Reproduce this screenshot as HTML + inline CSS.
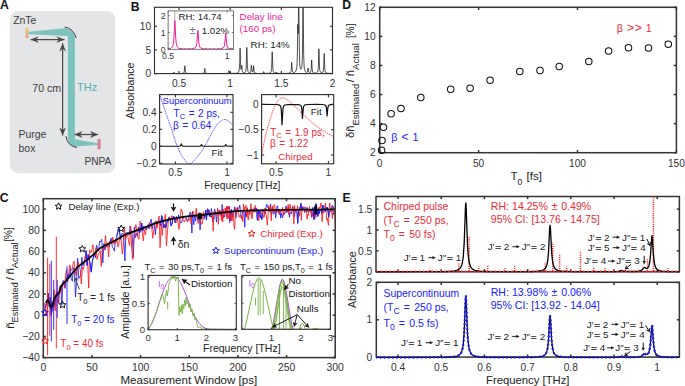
<!DOCTYPE html>
<html><head><meta charset="utf-8"><style>
html,body{margin:0;padding:0;background:#fff;}
body{width:685px;height:386px;overflow:hidden;}
svg{display:block;font-family:"Liberation Sans", sans-serif;}
</style></head><body>
<svg width="685" height="386" viewBox="0 0 685 386">
<rect width="685" height="386" fill="#fff"/>
<text x="0.00" y="9.00" font-size="12.2" fill="#111" font-weight="bold" >A</text>
<rect x="10" y="11" width="105.2" height="162.3" rx="8.5" fill="#e4e5e7"/>
<text x="13.20" y="23.60" font-size="10.4" fill="#3c3c3c" >ZnTe</text>
<defs><linearGradient id="zg" x1="0" y1="0" x2="0" y2="1"><stop offset="0" stop-color="#ecd070"/><stop offset="1" stop-color="#e7a08c"/></linearGradient></defs>
<rect x="25.4" y="27.8" width="3.2" height="10.4" fill="url(#zg)"/>
<path d="M28.4,31.7 L65.3,28.3 Q73.6,30.2 74.9,37.2 L74.9,139.3 L97.5,143.3 L97.5,145.0 L75.5,146.6 Q68.6,145.6 67.9,139.0 L67.9,36.1 L28.4,34.3 Z" fill="#7cc3bd"/>
<path d="M64.6,27.0 Q73.6,28.6 76.2,38.0" fill="none" stroke="#3a3a3a" stroke-width="1"/>
<path d="M66.0,136.2 Q67.0,145.6 77.0,147.6" fill="none" stroke="#3a3a3a" stroke-width="1"/>
<line x1="30.60" y1="39.60" x2="64.50" y2="39.60" stroke="#474747" stroke-width="1.25" />
<path d="M30.60,39.60 L38.80,36.20 L36.20,39.60 L38.80,43.00 Z" fill="#474747"/>
<path d="M64.50,39.60 L56.30,43.00 L58.90,39.60 L56.30,36.20 Z" fill="#474747"/>
<line x1="62.60" y1="43.20" x2="62.60" y2="135.60" stroke="#474747" stroke-width="1.25" />
<path d="M62.60,43.20 L66.00,51.40 L62.60,48.80 L59.20,51.40 Z" fill="#474747"/>
<path d="M62.60,135.60 L59.20,127.40 L62.60,130.00 L66.00,127.40 Z" fill="#474747"/>
<line x1="74.40" y1="134.50" x2="98.20" y2="134.50" stroke="#474747" stroke-width="1.25" />
<path d="M74.40,134.50 L82.60,131.10 L80.00,134.50 L82.60,137.90 Z" fill="#474747"/>
<path d="M98.20,134.50 L90.00,137.90 L92.60,134.50 L90.00,131.10 Z" fill="#474747"/>
<rect x="97.4" y="139.0" width="3.3" height="10.3" fill="#d6848f"/>
<text x="32.30" y="92.30" font-size="10.6" fill="#3c3c3c" >70 cm</text>
<text x="77.00" y="90.70" font-size="11" fill="#4fb3a9" >THz</text>
<text x="18.60" y="138.40" font-size="10.4" fill="#3c3c3c" >Purge</text>
<text x="18.60" y="151.90" font-size="10.4" fill="#3c3c3c" >box</text>
<text x="84.40" y="165.40" font-size="10.2" fill="#3c3c3c" >PNPA</text>
<text x="130.80" y="10.90" font-size="12.2" fill="#111" font-weight="bold" >B</text>
<clipPath id="cB"><rect x="154.5" y="7.3" width="178.0" height="66.3"/></clipPath>
<g clip-path="url(#cB)">
<path d="M153.4,73.6 172.2,73.5 173.3,73.2 173.9,72.2 174.4,73.2 175.2,73.5 180.3,73.5 182.9,73.4 183.8,72.9 184.2,71.8 184.8,65.8 185.5,72.2 186.1,73.0 187.1,73.4 198.6,73.6 203.2,73.4 203.9,73.0 204.2,72.3 204.8,68.4 205.4,72.4 205.9,73.1 206.8,73.4 215.2,73.6 227.2,73.4 227.9,73.2 228.3,72.9 228.9,70.6 229.5,72.5 229.8,72.5 230.2,71.9 230.7,73.0 231.2,73.3 234.4,73.4 237.3,73.1 238.2,72.7 238.7,72.0 239.3,69.1 239.7,63.2 240.1,48.2 240.5,63.4 240.9,68.8 241.1,69.3 241.2,69.2 241.8,65.4 242.1,70.0 242.5,71.7 243.2,72.7 243.8,72.9 244.4,72.8 245.1,72.4 245.6,71.7 246.1,68.8 246.8,47.4 247.5,68.2 248.0,71.4 248.4,72.2 248.9,72.7 249.5,72.8 250.0,72.7 250.4,72.4 250.7,71.9 251.0,69.9 251.4,65.2 251.9,70.1 252.2,71.7 252.6,72.0 253.0,71.3 253.6,65.8 254.2,71.7 254.6,72.7 255.2,73.1 257.7,73.5 262.4,73.4 263.1,73.0 263.6,71.6 264.2,73.0 264.9,73.4 268.7,73.3 269.8,73.1 270.5,72.8 271.2,71.4 271.6,68.7 272.2,51.8 272.9,69.0 273.3,71.5 273.9,72.7 274.6,73.1 275.4,73.1 275.7,72.9 276.2,72.0 276.9,73.1 278.1,73.4 287.0,73.4 289.1,73.2 290.1,72.9 290.8,72.1 291.2,70.5 291.7,62.4 292.2,69.5 292.6,71.5 292.9,72.2 293.4,72.5 294.0,72.5 294.8,72.2 295.7,71.4 296.3,69.8 296.8,67.1 297.1,63.4 297.4,52.3 297.8,24.4 298.1,33.7 298.3,31.5 298.7,-7.3 299.4,54.1 299.7,64.0 300.1,67.2 300.5,68.8 300.8,69.2 301.1,69.2 301.7,67.6 302.0,64.8 302.3,59.3 302.6,41.3 303.0,-7.1 303.7,55.6 304.1,66.0 304.4,68.9 304.9,70.6 305.3,71.5 305.9,72.1 306.6,72.4 307.2,72.2 307.6,71.3 308.1,68.0 308.6,71.2 308.9,72.2 309.3,72.5 309.7,72.7 310.2,72.5 310.6,72.2 310.9,71.1 311.2,69.1 311.7,60.0 312.2,69.2 312.8,72.1 313.5,72.9 314.9,73.1 316.5,72.9 317.4,72.2 317.9,70.6 318.3,67.6 318.9,48.8 319.5,66.9 319.8,70.4 320.3,72.0 321.1,72.7 322.2,72.7 322.9,72.2 323.3,70.9 323.8,66.1 324.2,53.6 324.7,67.4 325.0,70.4 325.4,72.0 326.0,72.8 327.0,73.2 332.5,73.5" fill="none" stroke="#1a1a1a" stroke-width="0.75" stroke-linejoin="round" />
</g>
<rect x="154.50" y="7.30" width="178.00" height="66.30" fill="none" stroke="#2b2b2b" stroke-width="1.1"/>
<line x1="179.00" y1="73.60" x2="179.00" y2="71.00" stroke="#2b2b2b" stroke-width="1.1" />
<line x1="179.00" y1="7.30" x2="179.00" y2="9.90" stroke="#2b2b2b" stroke-width="1.1" />
<line x1="230.16" y1="73.60" x2="230.16" y2="71.00" stroke="#2b2b2b" stroke-width="1.1" />
<line x1="230.16" y1="7.30" x2="230.16" y2="9.90" stroke="#2b2b2b" stroke-width="1.1" />
<line x1="281.33" y1="73.60" x2="281.33" y2="71.00" stroke="#2b2b2b" stroke-width="1.1" />
<line x1="281.33" y1="7.30" x2="281.33" y2="9.90" stroke="#2b2b2b" stroke-width="1.1" />
<line x1="332.50" y1="73.60" x2="332.50" y2="71.00" stroke="#2b2b2b" stroke-width="1.1" />
<line x1="332.50" y1="7.30" x2="332.50" y2="9.90" stroke="#2b2b2b" stroke-width="1.1" />
<line x1="154.50" y1="73.60" x2="157.10" y2="73.60" stroke="#2b2b2b" stroke-width="1.1" />
<line x1="332.50" y1="73.60" x2="329.90" y2="73.60" stroke="#2b2b2b" stroke-width="1.1" />
<line x1="154.50" y1="49.92" x2="157.10" y2="49.92" stroke="#2b2b2b" stroke-width="1.1" />
<line x1="332.50" y1="49.92" x2="329.90" y2="49.92" stroke="#2b2b2b" stroke-width="1.1" />
<line x1="154.50" y1="26.24" x2="157.10" y2="26.24" stroke="#2b2b2b" stroke-width="1.1" />
<line x1="332.50" y1="26.24" x2="329.90" y2="26.24" stroke="#2b2b2b" stroke-width="1.1" />
<text x="151.20" y="77.20" font-size="10.2" text-anchor="end" fill="#333" >0</text>
<text x="151.20" y="53.52" font-size="10.2" text-anchor="end" fill="#333" >5</text>
<text x="151.20" y="29.84" font-size="10.2" text-anchor="end" fill="#333" >10</text>
<text x="179.00" y="86.70" font-size="10.2" text-anchor="middle" fill="#333" >0.5</text>
<text x="230.16" y="86.70" font-size="10.2" text-anchor="middle" fill="#333" >1</text>
<text x="281.33" y="86.70" font-size="10.2" text-anchor="middle" fill="#333" >1.5</text>
<text x="332.50" y="86.70" font-size="10.2" text-anchor="middle" fill="#333" >2</text>
<rect x="168.1" y="10.9" width="65.40" height="38.40" fill="#fff"/>
<clipPath id="cBi"><rect x="168.1" y="10.9" width="65.4" height="38.4"/></clipPath>
<g clip-path="url(#cBi)">
<line x1="174.83" y1="10.90" x2="174.83" y2="22.42" stroke="#777" stroke-width="0.6" />
<path d="M168.1,48.6 169.2,48.4 170.9,48.4 172.4,46.8 173.2,44.6 173.9,38.7 174.8,20.7 175.0,22.6 175.7,37.7 176.2,43.1 176.6,45.2 177.1,46.5 177.9,47.6 179.1,48.6 181.3,48.4 183.2,49.1 184.5,48.7 185.5,48.6 187.4,49.1 188.6,48.7 189.6,48.6 191.5,49.0 193.0,48.4 195.0,48.0 195.6,47.7 196.3,46.1 196.8,43.5 197.9,30.3 199.0,44.1 199.7,47.1 200.4,47.8 203.8,49.0 205.9,48.6 207.9,49.2 210.1,48.7 212.1,49.2 214.0,48.7 216.2,49.2 218.2,48.6 220.3,49.0 223.2,47.8 224.0,46.8 224.6,45.0 225.7,33.0 226.7,43.7 227.1,45.9 227.6,47.2 228.6,48.4 230.8,48.5 232.6,49.1 234.2,48.7" fill="none" stroke="#ec1e96" stroke-width="1.0" stroke-linejoin="round" />
</g>
<rect x="168.1" y="10.9" width="65.40" height="38.40" fill="none" stroke="#555" stroke-width="0.8"/>
<line x1="168.10" y1="49.30" x2="169.90" y2="49.30" stroke="#555" stroke-width="0.8" />
<line x1="233.50" y1="49.30" x2="231.70" y2="49.30" stroke="#555" stroke-width="0.8" />
<text x="165.60" y="52.50" font-size="8.6" text-anchor="end" fill="#333" >0</text>
<line x1="168.10" y1="32.50" x2="169.90" y2="32.50" stroke="#555" stroke-width="0.8" />
<line x1="233.50" y1="32.50" x2="231.70" y2="32.50" stroke="#555" stroke-width="0.8" />
<text x="165.60" y="35.70" font-size="8.6" text-anchor="end" fill="#333" >1</text>
<line x1="168.10" y1="15.70" x2="169.90" y2="15.70" stroke="#555" stroke-width="0.8" />
<line x1="233.50" y1="15.70" x2="231.70" y2="15.70" stroke="#555" stroke-width="0.8" />
<text x="165.60" y="18.90" font-size="8.6" text-anchor="end" fill="#333" >2</text>
<line x1="168.10" y1="49.30" x2="168.10" y2="47.50" stroke="#555" stroke-width="0.8" />
<line x1="168.10" y1="10.90" x2="168.10" y2="12.70" stroke="#555" stroke-width="0.8" />
<line x1="227.10" y1="49.30" x2="227.10" y2="47.50" stroke="#555" stroke-width="0.8" />
<line x1="227.10" y1="10.90" x2="227.10" y2="12.70" stroke="#555" stroke-width="0.8" />
<text x="168.10" y="58.80" font-size="8.6" text-anchor="middle" fill="#333" >0.5</text>
<text x="227.10" y="58.80" font-size="8.6" text-anchor="middle" fill="#333" >1</text>
<text x="178.50" y="19.80" font-size="9.6" fill="#222" >RH: 14.74</text>
<text x="189.60" y="33.80" font-size="11.5" fill="#777" >±</text>
<text x="201.80" y="33.60" font-size="9.6" fill="#222" >1.02%</text>
<text x="239.60" y="20.20" font-size="9.8" fill="#ec1e96" >Delay line</text>
<text x="239.60" y="31.60" font-size="9.8" fill="#ec1e96" >(160 ps)</text>
<text x="250.60" y="47.80" font-size="9.8" fill="#222" >RH: 14%</text>
<text x="0.00" y="0.00" font-size="10.6" text-anchor="middle" fill="#222" transform="translate(134.2,90.8) rotate(-90)">Absorbance</text>
<clipPath id="cBl"><rect x="159.6" y="94.6" width="73.4" height="69.4"/></clipPath>
<g clip-path="url(#cBl)">
<path d="M159.4,93.6 159.7,94.6 160.1,95.8 160.6,97.3 161.2,99.0 161.8,100.8 162.4,102.6 162.9,104.3 163.5,106.0 164.0,107.6 164.6,109.2 165.2,110.8 165.7,112.5 166.3,114.1 166.9,115.7 167.4,117.4 168.0,119.0 168.6,120.6 169.1,122.2 169.7,123.8 170.2,125.4 170.8,127.0 171.4,128.7 171.9,130.3 172.5,132.0 173.1,133.7 173.6,135.6 174.2,137.4 174.7,139.3 175.3,141.1 175.9,142.9 176.5,144.7 177.1,146.3 177.8,147.9 178.5,149.4 179.2,150.9 179.9,152.4 180.7,153.8 181.5,155.1 182.2,156.4 183.0,157.5 183.8,158.6 184.5,159.7 185.3,160.7 186.0,161.7 186.8,162.5 187.6,163.2 188.4,163.6 189.2,163.8 190.0,163.7 190.8,163.5 191.6,163.0 192.4,162.3 193.3,161.5 194.2,160.6 195.1,159.6 196.0,158.5 197.0,157.3 198.1,156.0 199.2,154.5 200.3,152.9 201.5,151.3 202.6,149.6 203.7,147.9 204.7,146.3 205.7,144.6 206.6,142.9 207.6,141.1 208.5,139.2 209.4,137.4 210.3,135.7 211.1,134.0 212.0,132.5 212.9,131.1 213.7,129.7 214.5,128.4 215.3,127.1 216.1,125.9 216.9,124.9 217.7,123.9 218.5,123.0 219.3,122.2 220.0,121.6 220.8,121.0 221.6,120.5 222.3,120.1 223.0,119.8 223.7,119.6 224.4,119.5 225.0,119.5 225.6,119.5 226.2,119.7 226.8,120.0 227.3,120.3 227.9,120.7 228.4,121.1 229.0,121.5 229.6,122.0 230.3,122.7 231.1,123.4 231.8,124.1 232.5,124.9 233.1,125.5 233.6,126.1 234.0,126.5" fill="none" stroke="#3b3bff" stroke-width="0.9" stroke-linejoin="round" stroke-dasharray="1.6 0.9"/>
<path d="M158.9,146.3 179.3,146.2 180.1,146.0 180.6,145.7 181.3,143.8 182.1,145.8 182.6,146.1 183.9,146.2 199.6,146.2 200.7,145.9 201.4,144.6 202.2,145.9 203.3,146.2 223.4,146.2 225.0,145.9 225.7,144.6 226.4,145.8 227.2,146.2 234.2,146.3" fill="none" stroke="#111" stroke-width="1.1" stroke-linejoin="round" />
</g>
<rect x="159.60" y="94.60" width="73.40" height="69.40" fill="none" stroke="#2b2b2b" stroke-width="1.1"/>
<line x1="175.40" y1="164.00" x2="175.40" y2="161.40" stroke="#2b2b2b" stroke-width="1.1" />
<line x1="175.40" y1="94.60" x2="175.40" y2="97.20" stroke="#2b2b2b" stroke-width="1.1" />
<line x1="227.00" y1="164.00" x2="227.00" y2="161.40" stroke="#2b2b2b" stroke-width="1.1" />
<line x1="227.00" y1="94.60" x2="227.00" y2="97.20" stroke="#2b2b2b" stroke-width="1.1" />
<line x1="159.60" y1="163.30" x2="162.20" y2="163.30" stroke="#2b2b2b" stroke-width="1.1" />
<line x1="233.00" y1="163.30" x2="230.40" y2="163.30" stroke="#2b2b2b" stroke-width="1.1" />
<line x1="159.60" y1="146.30" x2="162.20" y2="146.30" stroke="#2b2b2b" stroke-width="1.1" />
<line x1="233.00" y1="146.30" x2="230.40" y2="146.30" stroke="#2b2b2b" stroke-width="1.1" />
<line x1="159.60" y1="129.30" x2="162.20" y2="129.30" stroke="#2b2b2b" stroke-width="1.1" />
<line x1="233.00" y1="129.30" x2="230.40" y2="129.30" stroke="#2b2b2b" stroke-width="1.1" />
<line x1="159.60" y1="112.30" x2="162.20" y2="112.30" stroke="#2b2b2b" stroke-width="1.1" />
<line x1="233.00" y1="112.30" x2="230.40" y2="112.30" stroke="#2b2b2b" stroke-width="1.1" />
<text x="156.60" y="166.90" font-size="10.2" text-anchor="end" fill="#333" >−0.2</text>
<text x="156.60" y="149.90" font-size="10.2" text-anchor="end" fill="#333" >0</text>
<text x="156.60" y="132.90" font-size="10.2" text-anchor="end" fill="#333" >0.2</text>
<text x="156.60" y="115.90" font-size="10.2" text-anchor="end" fill="#333" >0.4</text>
<text x="175.40" y="176.40" font-size="10.2" text-anchor="middle" fill="#333" >0.5</text>
<text x="227.00" y="176.40" font-size="10.2" text-anchor="middle" fill="#333" >1</text>
<text x="162.60" y="104.40" font-size="9.5" fill="#2020ff" >Supercontinuum</text>
<text x="173.60" y="116.70" font-size="10.0" fill="#2020ff" >T<tspan font-size="7.5" dy="2.5">C</tspan><tspan dy="-2.5" dx="0.8"> =</tspan><tspan dx="0.8"> 2 ps,</tspan></text>
<text x="173.00" y="128.80" font-size="10.0" fill="#2020ff" >β<tspan dx="0.8"> =</tspan><tspan dx="0.8"> 0.64</tspan></text>
<text x="211.50" y="155.70" font-size="9.8" fill="#222" >Fit</text>
<clipPath id="cBr"><rect x="261.6" y="94.6" width="72.09999999999997" height="69.20000000000002"/></clipPath>
<g clip-path="url(#cBr)">
<path d="M261.0,157.5 261.2,156.5 261.4,155.2 261.7,153.7 262.1,152.0 262.4,150.2 262.8,148.4 263.2,146.6 263.5,145.0 263.8,143.5 264.2,141.9 264.5,140.4 264.8,138.9 265.2,137.4 265.5,135.9 265.9,134.5 266.2,133.1 266.5,131.8 266.9,130.5 267.2,129.3 267.5,128.1 267.8,126.9 268.2,125.7 268.5,124.6 268.8,123.5 269.1,122.4 269.4,121.3 269.7,120.3 270.1,119.3 270.4,118.3 270.7,117.3 271.0,116.3 271.3,115.4 271.6,114.5 271.9,113.6 272.2,112.7 272.6,111.8 272.9,110.9 273.2,110.1 273.5,109.3 273.8,108.5 274.1,107.7 274.4,107.0 274.7,106.3 275.0,105.6 275.3,105.0 275.7,104.4 276.0,103.8 276.3,103.2 276.6,102.7 277.0,102.1 277.3,101.6 277.6,101.2 278.0,100.7 278.3,100.3 278.7,99.9 279.0,99.6 279.4,99.3 279.7,99.0 280.1,98.7 280.4,98.5 280.8,98.3 281.2,98.1 281.5,98.0 281.9,97.9 282.3,97.9 282.7,97.9 283.0,97.9 283.4,98.0 283.8,98.1 284.2,98.2 284.6,98.3 285.0,98.5 285.4,98.7 285.8,98.9 286.3,99.1 286.7,99.3 287.1,99.6 287.6,99.9 288.0,100.2 288.5,100.5 289.0,100.9 289.5,101.3 290.0,101.7 290.5,102.1 291.0,102.6 291.5,103.1 292.0,103.5 292.5,104.0 293.0,104.4 293.4,104.9 293.9,105.3 294.3,105.8 294.7,106.2 295.2,106.7 295.7,107.2 296.3,107.8 296.9,108.4 297.6,109.1 298.3,109.8 299.0,110.5 299.7,111.3 300.5,112.0 301.2,112.8 302.0,113.5 302.8,114.2 303.6,115.0 304.4,115.7 305.3,116.5 306.1,117.2 307.0,118.0 307.8,118.7 308.6,119.4 309.4,120.1 310.1,120.7 310.8,121.4 311.6,122.0 312.3,122.7 313.0,123.3 313.7,123.9 314.5,124.5 315.3,125.1 316.1,125.7 316.9,126.3 317.7,126.9 318.5,127.5 319.3,128.1 320.1,128.7 320.9,129.2 321.7,129.7 322.4,130.2 323.1,130.7 323.9,131.1 324.6,131.6 325.4,132.0 326.2,132.5 327.0,133.0 327.9,133.5 329.0,134.1 330.0,134.7 331.1,135.3 332.2,135.9 333.1,136.4 333.9,136.9 334.5,137.2" fill="none" stroke="#ff2a2a" stroke-width="0.9" stroke-linejoin="round" stroke-dasharray="1.6 0.9"/>
<path d="M259.4,104.4 276.4,104.5 278.7,104.8 280.0,105.4 280.8,106.8 281.3,109.8 282.0,124.6 283.0,108.7 283.7,106.0 284.2,105.4 284.8,105.0 287.8,104.6 295.7,104.5 299.0,104.7 300.6,105.2 301.2,106.2 301.7,108.1 302.4,118.5 303.4,107.4 304.0,105.7 304.9,104.9 307.7,104.5 316.3,104.4 322.7,104.5 325.0,105.0 325.8,105.7 326.3,107.1 327.1,116.0 327.8,108.2 328.2,106.5 328.6,105.5 329.3,105.0 330.4,104.6 335.7,104.4" fill="none" stroke="#111" stroke-width="1.2" stroke-linejoin="round" />
</g>
<rect x="261.60" y="94.60" width="72.10" height="69.20" fill="none" stroke="#2b2b2b" stroke-width="1.1"/>
<line x1="276.10" y1="163.80" x2="276.10" y2="161.20" stroke="#2b2b2b" stroke-width="1.1" />
<line x1="276.10" y1="94.60" x2="276.10" y2="97.20" stroke="#2b2b2b" stroke-width="1.1" />
<line x1="328.40" y1="163.80" x2="328.40" y2="161.20" stroke="#2b2b2b" stroke-width="1.1" />
<line x1="328.40" y1="94.60" x2="328.40" y2="97.20" stroke="#2b2b2b" stroke-width="1.1" />
<line x1="261.60" y1="155.00" x2="264.20" y2="155.00" stroke="#2b2b2b" stroke-width="1.1" />
<line x1="333.70" y1="155.00" x2="331.10" y2="155.00" stroke="#2b2b2b" stroke-width="1.1" />
<line x1="261.60" y1="129.70" x2="264.20" y2="129.70" stroke="#2b2b2b" stroke-width="1.1" />
<line x1="333.70" y1="129.70" x2="331.10" y2="129.70" stroke="#2b2b2b" stroke-width="1.1" />
<line x1="261.60" y1="104.40" x2="264.20" y2="104.40" stroke="#2b2b2b" stroke-width="1.1" />
<line x1="333.70" y1="104.40" x2="331.10" y2="104.40" stroke="#2b2b2b" stroke-width="1.1" />
<text x="258.60" y="158.60" font-size="10.2" text-anchor="end" fill="#333" >−1</text>
<text x="258.60" y="133.30" font-size="10.2" text-anchor="end" fill="#333" >−0.5</text>
<text x="258.60" y="108.00" font-size="10.2" text-anchor="end" fill="#333" >0</text>
<text x="276.10" y="175.60" font-size="10.2" text-anchor="middle" fill="#333" >0.5</text>
<text x="328.40" y="175.60" font-size="10.2" text-anchor="middle" fill="#333" >1</text>
<text x="310.80" y="114.70" font-size="9.8" fill="#222" >Fit</text>
<text x="270.20" y="135.50" font-size="10.0" fill="#ee2a3a" >T<tspan font-size="7.5" dy="2.5">C</tspan><tspan dy="-2.5" dx="0.8"> =</tspan><tspan dx="0.8"> 1.9 ps,</tspan></text>
<text x="270.00" y="147.00" font-size="10.0" fill="#ee2a3a" >β<tspan dx="0.8"> =</tspan><tspan dx="0.8"> 1.22</tspan></text>
<text x="278.30" y="159.60" font-size="9.8" fill="#ee2a3a" >Chirped</text>
<text x="204.30" y="188.50" font-size="10.3" fill="#222" >Frequency [THz]</text>
<text x="342.30" y="8.70" font-size="12.2" fill="#111" font-weight="bold" >D</text>
<rect x="379.70" y="7.30" width="296.70" height="145.40" fill="none" stroke="#333" stroke-width="1.5"/>
<line x1="379.70" y1="152.70" x2="379.70" y2="150.10" stroke="#333" stroke-width="1.5" />
<line x1="379.70" y1="7.30" x2="379.70" y2="9.90" stroke="#333" stroke-width="1.5" />
<line x1="478.60" y1="152.70" x2="478.60" y2="150.10" stroke="#333" stroke-width="1.5" />
<line x1="478.60" y1="7.30" x2="478.60" y2="9.90" stroke="#333" stroke-width="1.5" />
<line x1="577.50" y1="152.70" x2="577.50" y2="150.10" stroke="#333" stroke-width="1.5" />
<line x1="577.50" y1="7.30" x2="577.50" y2="9.90" stroke="#333" stroke-width="1.5" />
<line x1="676.40" y1="152.70" x2="676.40" y2="150.10" stroke="#333" stroke-width="1.5" />
<line x1="676.40" y1="7.30" x2="676.40" y2="9.90" stroke="#333" stroke-width="1.5" />
<line x1="379.70" y1="152.70" x2="382.30" y2="152.70" stroke="#333" stroke-width="1.5" />
<line x1="676.40" y1="152.70" x2="673.80" y2="152.70" stroke="#333" stroke-width="1.5" />
<line x1="379.70" y1="123.62" x2="382.30" y2="123.62" stroke="#333" stroke-width="1.5" />
<line x1="676.40" y1="123.62" x2="673.80" y2="123.62" stroke="#333" stroke-width="1.5" />
<line x1="379.70" y1="94.54" x2="382.30" y2="94.54" stroke="#333" stroke-width="1.5" />
<line x1="676.40" y1="94.54" x2="673.80" y2="94.54" stroke="#333" stroke-width="1.5" />
<line x1="379.70" y1="65.46" x2="382.30" y2="65.46" stroke="#333" stroke-width="1.5" />
<line x1="676.40" y1="65.46" x2="673.80" y2="65.46" stroke="#333" stroke-width="1.5" />
<line x1="379.70" y1="36.38" x2="382.30" y2="36.38" stroke="#333" stroke-width="1.5" />
<line x1="676.40" y1="36.38" x2="673.80" y2="36.38" stroke="#333" stroke-width="1.5" />
<line x1="379.70" y1="7.30" x2="382.30" y2="7.30" stroke="#333" stroke-width="1.5" />
<line x1="676.40" y1="7.30" x2="673.80" y2="7.30" stroke="#333" stroke-width="1.5" />
<text x="375.60" y="156.30" font-size="10.2" text-anchor="end" fill="#333" >2</text>
<text x="375.60" y="127.22" font-size="10.2" text-anchor="end" fill="#333" >4</text>
<text x="375.60" y="98.14" font-size="10.2" text-anchor="end" fill="#333" >6</text>
<text x="375.60" y="69.06" font-size="10.2" text-anchor="end" fill="#333" >8</text>
<text x="375.60" y="39.98" font-size="10.2" text-anchor="end" fill="#333" >10</text>
<text x="375.60" y="10.90" font-size="10.2" text-anchor="end" fill="#333" >12</text>
<text x="379.70" y="166.60" font-size="10.2" text-anchor="middle" fill="#333" >0</text>
<text x="478.60" y="166.60" font-size="10.2" text-anchor="middle" fill="#333" >50</text>
<text x="577.50" y="166.60" font-size="10.2" text-anchor="middle" fill="#333" >100</text>
<text x="676.40" y="166.60" font-size="10.2" text-anchor="middle" fill="#333" >150</text>
<circle cx="381.6" cy="150.2" r="3.25" fill="none" stroke="#111" stroke-width="1.05"/>
<circle cx="382.0" cy="140.4" r="3.25" fill="none" stroke="#111" stroke-width="1.05"/>
<circle cx="383.5" cy="127.3" r="3.25" fill="none" stroke="#111" stroke-width="1.05"/>
<circle cx="391.1" cy="113.8" r="3.25" fill="none" stroke="#111" stroke-width="1.05"/>
<circle cx="401.0" cy="108.5" r="3.25" fill="none" stroke="#111" stroke-width="1.05"/>
<circle cx="420.8" cy="97.5" r="3.25" fill="none" stroke="#111" stroke-width="1.05"/>
<circle cx="450.7" cy="89.3" r="3.25" fill="none" stroke="#111" stroke-width="1.05"/>
<circle cx="470.1" cy="88.3" r="3.25" fill="none" stroke="#111" stroke-width="1.05"/>
<circle cx="490.1" cy="80.2" r="3.25" fill="none" stroke="#111" stroke-width="1.05"/>
<circle cx="519.8" cy="71.5" r="3.25" fill="none" stroke="#111" stroke-width="1.05"/>
<circle cx="540.0" cy="70.5" r="3.25" fill="none" stroke="#111" stroke-width="1.05"/>
<circle cx="559.2" cy="66.5" r="3.25" fill="none" stroke="#111" stroke-width="1.05"/>
<circle cx="588.8" cy="61.4" r="3.25" fill="none" stroke="#111" stroke-width="1.05"/>
<circle cx="608.6" cy="50.9" r="3.25" fill="none" stroke="#111" stroke-width="1.05"/>
<circle cx="628.5" cy="47.8" r="3.25" fill="none" stroke="#111" stroke-width="1.05"/>
<circle cx="648.5" cy="48.0" r="3.25" fill="none" stroke="#111" stroke-width="1.05"/>
<circle cx="668.3" cy="44.2" r="3.25" fill="none" stroke="#111" stroke-width="1.05"/>
<text x="391.20" y="141.20" font-size="10.8" fill="#2020ff" >β <tspan dx="1" font-size="12">&lt;</tspan><tspan dx="1"> 1</tspan></text>
<text x="616.80" y="32.00" font-size="10.8" fill="#ee2a3a" >β <tspan dx="1.0" font-size="12">&gt;</tspan><tspan dx="0.6" font-size="12">&gt;</tspan><tspan dx="1.2"> 1</tspan></text>
<text x="510.80" y="180.10" font-size="10.8" fill="#222" >T<tspan font-size="8.6" dy="5.0">0</tspan><tspan dy="-5.0" dx="1.2" font-size="11.6"> [fs]</tspan></text>
<text x="0.00" y="0.00" font-size="11.3" fill="#222" transform="translate(354.0,138.0) rotate(-90)">δñ<tspan font-size="9.4" dy="4.6">Estimated</tspan><tspan dy="-4.6" dx="1.6">/</tspan><tspan dx="2.8">ñ</tspan><tspan font-size="9.6" dy="4.6">Actual</tspan><tspan font-size="10" dy="-4.6" dx="5.2">[%]</tspan></text>
<text x="-0.30" y="202.30" font-size="12.2" fill="#111" font-weight="bold" >C</text>
<clipPath id="cC"><rect x="43.3" y="198.7" width="291.9" height="158.90000000000003"/></clipPath>
<g clip-path="url(#cC)">
<path d="M45.1,308.2 47.2,300.5 48.2,293.4 49.3,306.8 50.3,297.2 51.4,314.1 52.4,308.6 53.5,307.0 54.5,304.6 56.6,291.8 57.7,292.3 58.7,303.3 59.8,286.3 60.8,285.9 61.9,304.9 62.9,280.7 64.0,281.0 65.0,288.4 66.1,278.9 67.1,277.5 68.2,274.7 69.2,277.6 70.3,268.5 71.3,279.2 72.4,281.2 73.4,267.6 74.5,270.5 75.5,297.0 76.6,280.3 77.6,258.2 78.7,278.8 79.7,276.4 80.8,276.0 81.8,257.2 82.9,266.1 85.0,258.3 86.0,250.5 87.1,265.4 88.1,254.6 90.2,264.4 91.3,272.1 92.3,261.5 93.4,257.2 94.4,254.0 95.5,257.9 96.5,245.2 97.6,248.8 98.6,250.8 99.7,241.0 100.7,242.0 101.8,239.3 102.8,262.9 103.9,243.5 104.9,250.0 106.0,245.6 107.0,247.2 108.1,243.5 109.1,246.9 111.2,238.1 112.3,247.3 113.3,248.0 114.4,251.1 115.4,240.8 116.5,237.3 118.6,227.9 119.6,232.4 120.7,239.3 121.7,233.7 122.8,233.3 123.8,237.9 124.9,260.9 125.9,233.0 127.0,232.3 128.0,233.1 129.1,235.2 130.1,225.9 131.2,231.5 132.2,234.9 133.3,257.2 134.3,227.2 135.4,237.6 136.4,233.0 137.5,236.7 138.5,227.1 139.6,232.7 140.6,231.4 141.7,223.0 142.7,231.1 143.8,226.2 144.8,226.9 145.9,230.0 146.9,228.6 148.0,224.6 149.1,229.0 150.1,222.5 151.2,219.2 152.2,228.5 153.3,222.7 154.3,223.7 155.4,234.7 156.4,221.0 157.5,224.8 158.5,220.4 159.6,222.1 160.6,226.0 161.7,215.7 162.7,219.8 163.8,227.9 164.8,224.6 165.9,227.4 166.9,221.7 168.0,221.5 169.0,217.6 170.1,219.3 171.1,225.9 172.2,223.2 173.2,216.6 174.3,216.9 175.3,223.0 176.4,216.4 177.4,221.2 178.5,214.8 179.5,219.9 180.6,222.9 181.6,222.5 182.7,218.0 183.7,217.5 184.8,216.6 185.8,216.6 186.9,220.6 187.9,220.4 189.0,217.6 190.0,212.1 190.6,214.4 191.3,220.3 191.9,233.0 192.5,211.5 193.8,224.7 194.4,216.1 195.0,217.2 195.7,221.2 196.3,214.3 196.9,214.3 197.6,220.0 198.8,214.1 199.5,218.7 200.1,229.8 200.7,219.4 201.3,216.4 202.0,214.5 203.9,219.2 204.5,217.6 205.8,210.1 206.4,219.9 207.0,213.5 207.6,209.3 208.3,211.4 208.9,209.8 209.5,216.3 210.2,214.2 210.8,216.9 211.4,208.4 212.1,213.0 212.7,221.8 213.3,218.0 213.9,219.4 214.6,208.9 215.8,215.1 216.5,222.1 217.1,214.0 218.4,214.0 219.0,210.5 220.2,215.4 220.9,211.6 221.5,216.5 222.1,204.5 223.4,218.0 224.0,215.9 224.7,217.0 225.9,208.5 226.5,210.6 227.2,217.0 227.8,206.4 228.4,209.0 229.1,206.6 229.7,222.6 230.3,210.5 231.0,220.9 231.6,209.1 232.2,217.1 233.5,210.0 234.1,211.8 234.7,206.8 236.0,217.6 236.6,210.7 237.3,208.0 237.9,210.9 239.1,208.2 239.8,205.1 241.0,215.5 241.7,217.8 242.3,213.9 242.9,211.4 243.6,212.2 244.2,213.9 244.8,227.2 245.4,211.6 246.1,216.8 246.7,214.3 247.3,207.9 248.0,212.8 248.6,213.3 249.2,213.2 249.9,212.8 250.5,209.2 251.1,208.9 251.7,209.3 252.4,209.4 253.0,211.5 253.6,209.2 254.9,207.6 255.5,211.6 256.1,208.2 256.8,211.2 257.4,220.2 258.7,210.4 259.3,213.6 259.9,211.1 260.6,217.8 261.2,215.5 261.8,219.5 262.4,214.0 263.1,210.4 263.7,212.0 264.3,210.2 265.0,213.9 265.6,212.4 266.2,206.5 266.9,204.3 267.5,207.2 268.1,206.7 268.7,209.9 269.4,207.6 270.0,211.6 270.6,204.1 271.3,214.7 272.5,207.5 273.2,214.2 273.8,213.9 274.4,212.7 275.0,209.8 275.7,217.8 276.9,206.4 277.6,205.7 278.8,213.0 279.5,214.5 280.1,210.4 280.7,218.1 281.3,213.0 282.0,216.4 282.6,217.7 283.2,214.0 283.9,212.5 284.5,214.3 285.1,212.5 285.8,206.0 286.4,206.2 287.0,212.4 287.6,211.2 288.3,207.1 289.5,217.2 290.2,212.3 291.4,214.0 292.1,208.7 293.3,207.1 293.9,215.7 294.6,216.4 295.2,209.7 295.8,212.1 296.5,211.2 297.1,212.7 297.7,223.3 298.4,213.0 299.0,209.5 300.2,207.2 300.9,203.5 301.5,209.5 302.1,207.3 302.8,209.8 303.4,209.4 304.0,206.7 304.7,211.9 305.3,211.0 305.9,211.7 307.2,207.5 307.8,211.4 308.4,212.7 309.7,209.2 310.3,211.9 311.0,209.9 311.6,217.4 312.2,209.8 312.8,207.6 314.1,219.6 314.7,207.3 315.4,210.9 316.0,203.7 316.6,211.0 317.3,209.6 317.9,216.4 318.5,209.2 319.1,213.6 319.8,210.5 320.4,209.5 321.0,210.6 321.7,213.2 322.9,205.1 323.6,206.3 324.2,210.4 324.8,209.8 325.4,211.7 326.1,207.5 326.7,209.1 327.3,207.4 328.0,210.2 328.6,217.1 329.2,212.7 329.9,211.1 330.5,211.5 331.1,210.0 331.7,206.4 332.4,205.1 333.6,214.7 334.9,211.8 335.5,205.7" fill="none" stroke="#1a1aff" stroke-width="0.85" stroke-linejoin="round" />
<path d="M44.6,303.1 45.6,315.5 46.7,312.9 47.7,295.8 48.8,299.9 49.8,300.1 50.9,315.9 51.9,308.8 53.0,309.0 54.0,289.8 55.1,310.8 56.1,295.1 57.2,300.5 58.2,303.2 59.3,288.5 60.3,292.4 61.4,292.6 62.4,282.9 63.5,282.3 64.5,287.7 65.6,274.9 66.6,269.1 67.7,282.0 69.8,264.8 70.8,269.3 71.9,270.5 72.9,264.3 74.0,261.2 75.0,270.4 76.1,275.6 77.1,266.0 78.2,261.8 79.2,268.5 80.3,269.8 81.3,284.0 82.4,267.0 83.4,269.5 85.5,255.9 86.6,262.5 87.6,261.0 88.7,288.1 89.7,249.8 90.8,252.7 91.8,250.8 92.9,244.7 93.9,254.8 95.0,256.3 96.0,247.8 97.1,259.5 98.1,255.0 100.2,250.5 101.3,266.5 102.3,247.8 103.4,249.9 104.4,249.3 105.5,235.7 106.5,246.7 107.6,242.8 108.6,256.9 109.7,240.8 111.8,244.0 112.8,237.0 113.9,244.3 114.9,240.0 116.0,242.7 117.0,239.3 118.1,247.1 120.2,236.6 121.2,240.2 122.3,254.0 123.3,244.9 124.4,227.4 125.4,239.2 127.5,233.5 128.6,242.1 129.6,245.5 130.7,226.6 131.7,249.3 132.8,259.4 133.8,241.0 134.9,229.6 135.9,224.6 138.0,237.3 139.1,239.3 140.1,221.1 142.2,231.8 143.3,241.0 144.3,229.7 145.4,234.6 146.4,228.3 147.5,226.5 148.6,225.2 149.6,222.4 150.7,226.9 151.7,226.1 152.8,238.3 154.9,221.7 155.9,220.9 157.0,228.2 159.1,216.0 160.1,247.8 161.2,223.9 162.2,235.4 163.3,221.3 164.3,218.8 165.4,214.4 166.4,245.8 168.5,218.3 169.6,216.8 170.6,221.8 171.7,215.6 172.7,217.7 173.8,217.2 174.8,219.2 175.9,222.9 176.9,218.1 178.0,221.8 179.0,229.5 181.1,208.9 182.2,211.5 183.2,220.4 184.3,222.1 185.3,219.2 186.4,218.9 187.4,221.9 188.5,219.7 189.5,220.4 190.6,215.7 191.2,224.1 191.8,213.1 192.4,214.0 193.1,211.5 193.7,213.7 195.0,216.8 195.6,214.4 196.2,208.2 196.9,215.3 197.5,217.9 198.1,223.5 199.4,212.9 200.0,212.5 200.6,223.3 201.3,224.3 201.9,222.4 202.5,223.5 203.2,211.7 203.8,216.3 205.0,216.8 205.7,216.7 206.9,215.0 207.6,208.5 208.2,215.2 208.8,211.2 209.5,214.4 210.1,212.1 210.7,216.2 211.3,217.5 212.0,214.8 212.6,215.8 213.2,231.3 213.9,211.7 214.5,212.7 215.1,211.4 215.8,214.8 216.4,213.2 217.0,215.4 217.6,208.1 218.3,224.3 218.9,210.1 219.5,210.1 220.2,212.0 220.8,210.6 221.4,220.6 222.1,213.0 222.7,222.1 223.3,209.3 223.9,217.5 225.2,207.9 225.8,212.2 226.5,206.4 227.1,219.0 227.7,206.4 228.4,218.8 229.0,218.0 229.6,206.5 230.2,220.6 230.9,215.6 231.5,213.4 232.1,220.9 232.8,215.2 233.4,212.1 234.0,226.5 234.7,229.3 235.3,213.7 235.9,207.8 236.5,214.2 237.8,207.1 239.1,217.4 239.7,216.6 240.3,214.9 241.6,219.2 242.2,216.5 242.8,221.6 243.5,203.9 244.1,212.3 244.7,207.0 245.4,208.1 246.0,205.3 246.6,217.2 247.3,207.7 247.9,219.6 248.5,219.8 249.1,210.5 249.8,214.7 251.0,203.8 251.7,218.5 252.3,218.5 252.9,208.9 253.6,211.6 254.2,212.6 254.8,207.4 255.4,205.3 256.1,209.6 256.7,209.6 257.3,209.1 258.6,220.7 259.2,218.6 259.8,212.9 260.5,213.8 261.1,213.0 261.7,214.2 262.4,208.9 263.6,217.8 264.3,217.2 264.9,208.0 265.5,212.5 266.1,214.9 267.4,225.2 268.7,205.7 269.3,212.0 269.9,210.0 270.6,205.9 271.2,220.9 271.8,211.4 272.4,205.9 273.1,212.3 274.3,204.5 275.0,207.6 275.6,213.0 276.2,212.3 276.9,212.5 277.5,210.1 278.1,211.7 278.7,209.2 279.4,214.3 280.0,210.5 280.6,211.0 281.3,211.9 282.5,207.4 283.2,215.5 283.8,211.1 284.4,208.9 285.0,211.1 285.7,208.1 286.3,212.5 286.9,207.5 287.6,210.8 288.2,204.3 288.8,214.7 289.5,208.0 290.1,204.2 290.7,209.0 291.3,211.4 292.0,210.3 292.6,205.8 293.2,212.3 293.9,224.1 294.5,205.3 295.1,211.0 295.8,208.7 296.4,210.4 297.0,209.8 297.6,205.7 298.3,211.7 298.9,211.1 299.5,216.2 300.2,207.2 300.8,210.3 301.4,220.4 302.1,207.0 302.7,206.5 303.3,209.5 303.9,209.5 304.6,212.8 305.8,207.0 306.5,210.4 307.1,219.3 307.7,214.3 308.4,215.5 309.0,209.1 309.6,206.6 310.2,211.9 310.9,210.8 311.5,216.7 312.1,213.0 312.8,216.6 313.4,210.3 314.0,209.4 314.7,211.1 315.9,217.6 316.5,208.3 317.2,214.2 317.8,215.6 318.4,209.2 319.1,206.8 319.7,208.4 320.3,207.3 321.0,203.0 322.2,221.8 322.8,208.7 323.5,213.3 324.1,211.0 324.7,210.8 325.4,203.0 326.0,208.6 326.6,219.7 327.3,218.3 327.9,222.6 328.5,225.3 329.1,208.7 329.8,203.0 330.4,211.4 331.0,209.5 331.7,212.9 332.3,218.4 332.9,210.1 333.6,206.6 334.2,210.9 334.8,210.0 335.4,224.8 336.1,222.3" fill="none" stroke="#ff1a1a" stroke-width="0.85" stroke-linejoin="round" />
<path d="M45.1,308.2 47.2,300.5 48.2,293.4 49.3,306.8 50.3,297.2 51.4,314.1 52.4,308.6 53.5,307.0 54.5,304.6 56.6,291.8 57.7,292.3" fill="none" stroke="#1a1aff" stroke-width="0.85" stroke-linejoin="round" />
<path d="M66.1,278.9 67.1,277.5 68.2,274.7 69.2,277.6" fill="none" stroke="#1a1aff" stroke-width="0.85" stroke-linejoin="round" />
<path d="M86.0,250.5 87.1,265.4 88.1,254.6 90.2,264.4 91.3,272.1 92.3,261.5 93.4,257.2 94.4,254.0" fill="none" stroke="#1a1aff" stroke-width="0.85" stroke-linejoin="round" />
<path d="M116.5,237.3 118.6,227.9 119.6,232.4 120.7,239.3" fill="none" stroke="#1a1aff" stroke-width="0.85" stroke-linejoin="round" />
<path d="M138.5,227.1 139.6,232.7 140.6,231.4 141.7,223.0 142.7,231.1 143.8,226.2" fill="none" stroke="#1a1aff" stroke-width="0.85" stroke-linejoin="round" />
<path d="M160.6,226.0 161.7,215.7 162.7,219.8 163.8,227.9 164.8,224.6 165.9,227.4 166.9,221.7 168.0,221.5 169.0,217.6 170.1,219.3 171.1,225.9 172.2,223.2 173.2,216.6 174.3,216.9 175.3,223.0" fill="none" stroke="#1a1aff" stroke-width="0.85" stroke-linejoin="round" />
<path d="M204.5,217.6 205.8,210.1 206.4,219.9 207.0,213.5 207.6,209.3 208.3,211.4 208.9,209.8 209.5,216.3 210.2,214.2 210.8,216.9" fill="none" stroke="#1a1aff" stroke-width="0.85" stroke-linejoin="round" />
<path d="M256.1,208.2 256.8,211.2 257.4,220.2 258.7,210.4 259.3,213.6 259.9,211.1 260.6,217.8 261.2,215.5 261.8,219.5 262.4,214.0" fill="none" stroke="#1a1aff" stroke-width="0.85" stroke-linejoin="round" />
<path d="M296.5,211.2 297.1,212.7 297.7,223.3 298.4,213.0 299.0,209.5 300.2,207.2 300.9,203.5 301.5,209.5 302.1,207.3 302.8,209.8 303.4,209.4" fill="none" stroke="#1a1aff" stroke-width="0.85" stroke-linejoin="round" />
<path d="M312.2,209.8 312.8,207.6 314.1,219.6 314.7,207.3 315.4,210.9 316.0,203.7 316.6,211.0 317.3,209.6 317.9,216.4 318.5,209.2 319.1,213.6 319.8,210.5 320.4,209.5 321.0,210.6 321.7,213.2 322.9,205.1 323.6,206.3 324.2,210.4 324.8,209.8 325.4,211.7 326.1,207.5 326.7,209.1 327.3,207.4 328.0,210.2 328.6,217.1 329.2,212.7 329.9,211.1" fill="none" stroke="#1a1aff" stroke-width="0.85" stroke-linejoin="round" />
<line x1="47.60" y1="257.90" x2="47.60" y2="355.20" stroke="#ff1a1a" stroke-width="0.9" />
<line x1="49.80" y1="263.80" x2="49.80" y2="335.70" stroke="#ff1a1a" stroke-width="0.9" />
<line x1="56.30" y1="236.80" x2="56.30" y2="348.40" stroke="#ff1a1a" stroke-width="0.9" />
<line x1="51.30" y1="260.80" x2="51.30" y2="341.50" stroke="#1a1aff" stroke-width="0.9" />
<line x1="53.70" y1="279.80" x2="53.70" y2="329.80" stroke="#1a1aff" stroke-width="0.9" />
<line x1="57.20" y1="279.80" x2="57.20" y2="318.00" stroke="#1a1aff" stroke-width="0.9" />
<line x1="67.00" y1="266.30" x2="67.00" y2="324.00" stroke="#1a1aff" stroke-width="0.9" />
<path d="M45.7,302.8 47.3,300.5 47.8,300.2 48.2,300.7 50.4,306.3 50.9,307.2 51.4,307.4 51.9,306.4 53.5,301.0 54.9,297.5 56.2,295.7 57.9,294.2 58.6,293.4 59.1,292.4 61.2,286.1 62.4,284.4 64.9,282.0 68.0,278.7 71.0,274.8 77.0,267.7 80.9,264.4 87.4,259.6 93.9,254.1 99.4,248.7 100.5,247.9 104.1,245.9 116.1,240.0 121.9,236.4 125.7,234.4 145.2,227.4 154.9,223.3 159.8,221.8 169.5,219.4 181.9,217.2 189.2,216.2 199.4,215.4 214.5,213.3 236.3,211.1 244.9,210.6 275.0,210.0 335.2,209.3" fill="none" stroke="#000" stroke-width="1.75" stroke-linejoin="round" />
</g>
<rect x="43.30" y="198.70" width="291.90" height="158.90" fill="none" stroke="#333" stroke-width="1.5"/>
<line x1="43.30" y1="357.60" x2="43.30" y2="355.00" stroke="#333" stroke-width="1.5" />
<line x1="43.30" y1="198.70" x2="43.30" y2="201.30" stroke="#333" stroke-width="1.5" />
<line x1="91.95" y1="357.60" x2="91.95" y2="355.00" stroke="#333" stroke-width="1.5" />
<line x1="91.95" y1="198.70" x2="91.95" y2="201.30" stroke="#333" stroke-width="1.5" />
<line x1="140.60" y1="357.60" x2="140.60" y2="355.00" stroke="#333" stroke-width="1.5" />
<line x1="140.60" y1="198.70" x2="140.60" y2="201.30" stroke="#333" stroke-width="1.5" />
<line x1="189.25" y1="357.60" x2="189.25" y2="355.00" stroke="#333" stroke-width="1.5" />
<line x1="189.25" y1="198.70" x2="189.25" y2="201.30" stroke="#333" stroke-width="1.5" />
<line x1="237.90" y1="357.60" x2="237.90" y2="355.00" stroke="#333" stroke-width="1.5" />
<line x1="237.90" y1="198.70" x2="237.90" y2="201.30" stroke="#333" stroke-width="1.5" />
<line x1="286.55" y1="357.60" x2="286.55" y2="355.00" stroke="#333" stroke-width="1.5" />
<line x1="286.55" y1="198.70" x2="286.55" y2="201.30" stroke="#333" stroke-width="1.5" />
<line x1="335.20" y1="357.60" x2="335.20" y2="355.00" stroke="#333" stroke-width="1.5" />
<line x1="335.20" y1="198.70" x2="335.20" y2="201.30" stroke="#333" stroke-width="1.5" />
<line x1="43.30" y1="357.64" x2="45.90" y2="357.64" stroke="#333" stroke-width="1.5" />
<line x1="335.20" y1="357.64" x2="332.60" y2="357.64" stroke="#333" stroke-width="1.5" />
<line x1="43.30" y1="336.42" x2="45.90" y2="336.42" stroke="#333" stroke-width="1.5" />
<line x1="335.20" y1="336.42" x2="332.60" y2="336.42" stroke="#333" stroke-width="1.5" />
<line x1="43.30" y1="315.20" x2="45.90" y2="315.20" stroke="#333" stroke-width="1.5" />
<line x1="335.20" y1="315.20" x2="332.60" y2="315.20" stroke="#333" stroke-width="1.5" />
<line x1="43.30" y1="293.98" x2="45.90" y2="293.98" stroke="#333" stroke-width="1.5" />
<line x1="335.20" y1="293.98" x2="332.60" y2="293.98" stroke="#333" stroke-width="1.5" />
<line x1="43.30" y1="272.76" x2="45.90" y2="272.76" stroke="#333" stroke-width="1.5" />
<line x1="335.20" y1="272.76" x2="332.60" y2="272.76" stroke="#333" stroke-width="1.5" />
<line x1="43.30" y1="251.54" x2="45.90" y2="251.54" stroke="#333" stroke-width="1.5" />
<line x1="335.20" y1="251.54" x2="332.60" y2="251.54" stroke="#333" stroke-width="1.5" />
<line x1="43.30" y1="230.32" x2="45.90" y2="230.32" stroke="#333" stroke-width="1.5" />
<line x1="335.20" y1="230.32" x2="332.60" y2="230.32" stroke="#333" stroke-width="1.5" />
<line x1="43.30" y1="209.10" x2="45.90" y2="209.10" stroke="#333" stroke-width="1.5" />
<line x1="335.20" y1="209.10" x2="332.60" y2="209.10" stroke="#333" stroke-width="1.5" />
<text x="39.80" y="361.24" font-size="10.4" text-anchor="end" fill="#333" >−40</text>
<text x="39.80" y="340.02" font-size="10.4" text-anchor="end" fill="#333" >−20</text>
<text x="39.80" y="318.80" font-size="10.4" text-anchor="end" fill="#333" >0</text>
<text x="39.80" y="297.58" font-size="10.4" text-anchor="end" fill="#333" >20</text>
<text x="39.80" y="276.36" font-size="10.4" text-anchor="end" fill="#333" >40</text>
<text x="39.80" y="255.14" font-size="10.4" text-anchor="end" fill="#333" >60</text>
<text x="39.80" y="233.92" font-size="10.4" text-anchor="end" fill="#333" >80</text>
<text x="39.80" y="212.70" font-size="10.4" text-anchor="end" fill="#333" >100</text>
<text x="43.30" y="370.90" font-size="10.4" text-anchor="middle" fill="#333" >0</text>
<text x="91.95" y="370.90" font-size="10.4" text-anchor="middle" fill="#333" >50</text>
<text x="140.60" y="370.90" font-size="10.4" text-anchor="middle" fill="#333" >100</text>
<text x="189.25" y="370.90" font-size="10.4" text-anchor="middle" fill="#333" >150</text>
<text x="237.90" y="370.90" font-size="10.4" text-anchor="middle" fill="#333" >200</text>
<text x="286.55" y="370.90" font-size="10.4" text-anchor="middle" fill="#333" >250</text>
<text x="335.20" y="370.90" font-size="10.4" text-anchor="middle" fill="#333" >300</text>
<text x="120.50" y="384.20" font-size="11.55" fill="#222" >Measurement Window [ps]</text>
<path d="M62.6,301.3 63.6,303.6 66.0,303.8 64.1,305.4 64.7,307.8 62.6,306.5 60.5,307.8 61.1,305.4 59.2,303.8 61.6,303.6 Z" fill="none" stroke="#111" stroke-width="1.0" stroke-linejoin="miter"/>
<path d="M82.3,245.4 83.3,247.7 85.7,247.9 83.8,249.5 84.4,251.9 82.3,250.6 80.2,251.9 80.8,249.5 78.9,247.9 81.3,247.7 Z" fill="none" stroke="#111" stroke-width="1.0" stroke-linejoin="miter"/>
<path d="M121.2,225.0 122.2,227.3 124.6,227.5 122.7,229.1 123.3,231.5 121.2,230.2 119.1,231.5 119.7,229.1 117.8,227.5 120.2,227.3 Z" fill="none" stroke="#111" stroke-width="1.0" stroke-linejoin="miter"/>
<path d="M58.6,202.8 59.6,205.1 62.0,205.3 60.1,206.9 60.7,209.3 58.6,208.0 56.5,209.3 57.1,206.9 55.2,205.3 57.6,205.1 Z" fill="none" stroke="#111" stroke-width="1.0" stroke-linejoin="miter"/>
<path d="M44.9,309.1 45.9,311.4 48.3,311.6 46.4,313.2 47.0,315.6 44.9,314.3 42.8,315.6 43.4,313.2 41.5,311.6 43.9,311.4 Z" fill="none" stroke="#1a1aff" stroke-width="1.0" stroke-linejoin="miter"/>
<path d="M215.9,247.0 216.9,249.3 219.3,249.5 217.4,251.1 218.0,253.5 215.9,252.2 213.8,253.5 214.4,251.1 212.5,249.5 214.9,249.3 Z" fill="none" stroke="#1a1aff" stroke-width="1.0" stroke-linejoin="miter"/>
<path d="M45.2,337.4 46.2,339.7 48.6,339.9 46.7,341.5 47.3,343.9 45.2,342.6 43.1,343.9 43.7,341.5 41.8,339.9 44.2,339.7 Z" fill="none" stroke="#ff1a1a" stroke-width="1.0" stroke-linejoin="miter"/>
<path d="M251.7,230.1 252.7,232.4 255.1,232.6 253.2,234.2 253.8,236.6 251.7,235.3 249.6,236.6 250.2,234.2 248.3,232.6 250.7,232.4 Z" fill="none" stroke="#ff1a1a" stroke-width="1.0" stroke-linejoin="miter"/>
<rect x="197.8" y="213.2" width="4" height="6" fill="#000"/>
<rect x="314.5" y="205.5" width="2.6" height="9" fill="#000"/>
<text x="68.40" y="210.00" font-size="9.7" fill="#222" >Delay line (Exp.)</text>
<text x="260.20" y="236.70" font-size="9.7" fill="#ee2a3a" >Chirped (Exp.)</text>
<text x="224.10" y="254.30" font-size="9.7" fill="#2020ff" >Supercontinuum (Exp.)</text>
<text x="77.20" y="301.40" font-size="10.0" fill="#222" >T<tspan font-size="7.4" dy="2.8">0</tspan><tspan dy="-2.8"> = 1 fs</tspan></text>
<text x="71.20" y="323.20" font-size="10.0" fill="#2020ff" >T<tspan font-size="7.4" dy="2.8">0</tspan><tspan dy="-2.8"> = 20 fs</tspan></text>
<text x="60.30" y="346.80" font-size="10.0" fill="#ee2a3a" >T<tspan font-size="7.4" dy="2.8">0</tspan><tspan dy="-2.8"> = 40 fs</tspan></text>
<line x1="79.40" y1="289.50" x2="75.20" y2="278.10" stroke="#333" stroke-width="0.9" />
<path d="M78.37,280.34 L75.20,278.10 L74.24,281.86" fill="none" stroke="#333" stroke-width="0.9"/>
<line x1="173.50" y1="203.40" x2="173.50" y2="211.40" stroke="#111" stroke-width="1.2" />
<path d="M173.50,211.40 L170.50,206.80 L173.50,207.63 L176.50,206.80 Z" fill="#111"/>
<line x1="173.50" y1="245.20" x2="173.50" y2="236.80" stroke="#111" stroke-width="1.2" />
<path d="M173.50,236.80 L176.50,241.40 L173.50,240.57 L170.50,241.40 Z" fill="#111"/>
<text x="177.80" y="247.60" font-size="10.4" fill="#222" >δn</text>
<text x="0.00" y="0.00" font-size="11.5" fill="#222" transform="translate(14.3,328.8) rotate(-90)">ñ<tspan font-size="9.05" dy="3.4">Estimated</tspan><tspan dy="-3.4" dx="1.8">/</tspan><tspan dx="2.6">ñ</tspan><tspan font-size="9.3" dy="3.4">Actual</tspan><tspan font-size="10" dy="-5.6" dx="0.6">[%]</tspan></text>
<rect x="148.1" y="275.4" width="88.20" height="54.30" fill="#fff"/>
<clipPath id="ci1"><rect x="148.1" y="275.4" width="88.20000000000002" height="54.30000000000001"/></clipPath>
<g clip-path="url(#ci1)">
<path d="M148.3,329.4 152.0,323.0 154.5,317.1 156.7,311.0 159.5,301.9 163.0,291.7 164.6,287.6 166.4,283.6 168.2,280.6 170.0,278.5 172.1,277.0 172.8,276.7 174.2,276.6 175.6,276.9 177.0,277.8 178.4,279.3 180.5,282.5 182.6,286.8 186.1,294.9 191.0,308.5 192.8,312.6 195.3,317.3 197.3,320.5 199.5,323.6 201.8,326.0 205.9,328.6 207.6,329.0 214.4,329.3 237.0,329.4" fill="none" stroke="#b94ff0" stroke-width="1.0" stroke-linejoin="round" />
<path d="M148.3,329.4 152.0,323.0 156.0,313.0 161.5,296.0 162.6,293.7 164.6,303.8 165.5,296.0 166.5,290.0 167.3,296.0 169.0,284.0 171.8,276.0 172.5,279.0 173.3,276.2 174.0,278.5 174.8,276.0 175.6,281.0 177.3,277.0 178.2,276.5 179.0,315.5 179.8,307.0 180.6,312.0 181.4,305.0 182.2,314.0 183.0,304.0 183.8,309.0 184.6,300.0 185.4,306.0 186.2,297.0 187.0,304.0 188.0,301.0 189.0,308.0 190.0,304.0 191.0,312.0 192.0,309.0 193.0,316.0 194.0,313.0 195.0,320.0 196.0,318.0 197.3,326.0 198.5,328.0 200.0,326.5 201.5,328.8 203.0,327.5 205.0,329.0 237.0,329.4" fill="none" stroke="#78b443" stroke-width="0.95" stroke-linejoin="round" />
<line x1="167.70" y1="301.50" x2="167.70" y2="309.30" stroke="#78b443" stroke-width="1.0" />
</g>
<rect x="148.1" y="275.4" width="88.20" height="54.30" fill="none" stroke="#2b2b2b" stroke-width="1.1"/>
<line x1="148.10" y1="329.70" x2="149.90" y2="329.70" stroke="#2b2b2b" stroke-width="0.9" />
<line x1="236.30" y1="329.70" x2="234.50" y2="329.70" stroke="#2b2b2b" stroke-width="0.9" />
<line x1="148.10" y1="303.34" x2="149.90" y2="303.34" stroke="#2b2b2b" stroke-width="0.9" />
<line x1="236.30" y1="303.34" x2="234.50" y2="303.34" stroke="#2b2b2b" stroke-width="0.9" />
<line x1="148.10" y1="276.98" x2="149.90" y2="276.98" stroke="#2b2b2b" stroke-width="0.9" />
<line x1="236.30" y1="276.98" x2="234.50" y2="276.98" stroke="#2b2b2b" stroke-width="0.9" />
<line x1="148.10" y1="329.70" x2="148.10" y2="327.90" stroke="#2b2b2b" stroke-width="0.9" />
<text x="148.10" y="341.40" font-size="9.6" text-anchor="middle" fill="#333" >0</text>
<line x1="177.23" y1="329.70" x2="177.23" y2="327.90" stroke="#2b2b2b" stroke-width="0.9" />
<text x="177.23" y="341.40" font-size="9.6" text-anchor="middle" fill="#333" >1</text>
<line x1="206.36" y1="329.70" x2="206.36" y2="327.90" stroke="#2b2b2b" stroke-width="0.9" />
<text x="206.36" y="341.40" font-size="9.6" text-anchor="middle" fill="#333" >2</text>
<line x1="235.49" y1="329.70" x2="235.49" y2="327.90" stroke="#2b2b2b" stroke-width="0.9" />
<text x="235.49" y="341.40" font-size="9.6" text-anchor="middle" fill="#333" >3</text>
<rect x="241.8" y="275.4" width="88.60" height="53.90" fill="#fff"/>
<clipPath id="ci2"><rect x="241.8" y="275.4" width="88.59999999999997" height="53.900000000000034"/></clipPath>
<g clip-path="url(#ci2)">
<path d="M271.8,329.2 273.0,324.5 274.2,318.2 279.4,287.1 281.0,281.4 281.7,280.0 282.4,279.6 283.0,279.9 283.8,281.3 285.3,286.7 286.7,294.3 290.5,317.7 291.7,324.2 292.9,328.9" fill="none" stroke="#b94ff0" stroke-width="1.1" stroke-linejoin="round" />
<path d="M241.8,329.3 244.3,329.3 244.5,329.1 247.0,319.2 252.2,295.2 254.3,286.5 255.6,282.5 256.8,279.9 257.9,278.3 258.5,277.8 259.0,277.8 259.5,277.9 260.2,278.4 261.3,280.0 262.5,282.7 263.7,286.8 265.9,295.5 271.1,319.5 273.6,329.3 299.1,329.3 300.9,324.9 301.6,323.6 302.3,323.0 302.9,323.5 303.7,324.8 305.6,329.3 312.0,329.3 313.9,328.6 315.4,328.3 317.0,328.5 319.0,329.3 330.4,329.3" fill="none" stroke="#78b443" stroke-width="1.0" stroke-linejoin="round" />
<path d="M272.6,328.9 274.8,318.4 278.4,294.5 279.7,287.4 281.1,282.1 281.7,281.0 282.4,280.6 283.0,281.1 283.6,282.5 285.0,288.0 289.7,317.7 292.0,328.9" fill="none" stroke="#78b443" stroke-width="0.8" stroke-linejoin="round" />
<path d="M272.9,329.1 275.0,318.2 279.4,289.3 280.7,284.1 281.3,282.7 282.0,282.2 282.6,282.6 283.2,284.0 284.5,289.1 289.0,318.0 291.1,328.9" fill="none" stroke="#78b443" stroke-width="0.8" stroke-linejoin="round" />
<path d="M274.2,329.1 276.3,318.7 280.5,290.8 281.6,286.1 282.2,284.7 282.7,284.3 283.2,284.5 283.9,285.8 285.1,290.9 289.3,318.7 291.4,329.1" fill="none" stroke="#78b443" stroke-width="0.8" stroke-linejoin="round" />
<path d="M274.5,328.9 276.3,319.7 280.2,293.6 281.3,288.9 281.9,287.8 282.4,287.4 282.9,287.7 283.4,288.7 284.5,293.2 288.6,320.0 290.3,329.1" fill="none" stroke="#78b443" stroke-width="0.8" stroke-linejoin="round" />
<line x1="255.50" y1="297.70" x2="255.50" y2="305.40" stroke="#78b443" stroke-width="0.9" />
<line x1="258.20" y1="279.00" x2="258.20" y2="315.50" stroke="#78b443" stroke-width="0.9" />
<line x1="260.20" y1="279.00" x2="260.20" y2="314.70" stroke="#78b443" stroke-width="0.9" />
<line x1="263.30" y1="290.70" x2="263.30" y2="314.00" stroke="#78b443" stroke-width="0.9" />
<line x1="283.50" y1="281.00" x2="283.50" y2="329.00" stroke="#78b443" stroke-width="0.9" />
<line x1="279.50" y1="290.00" x2="279.50" y2="329.00" stroke="#78b443" stroke-width="0.9" />
<line x1="286.00" y1="295.00" x2="286.00" y2="329.00" stroke="#78b443" stroke-width="0.9" />
</g>
<rect x="241.8" y="275.4" width="88.60" height="53.90" fill="none" stroke="#2b2b2b" stroke-width="1.1"/>
<line x1="241.80" y1="329.30" x2="243.60" y2="329.30" stroke="#2b2b2b" stroke-width="0.9" />
<line x1="330.40" y1="329.30" x2="328.60" y2="329.30" stroke="#2b2b2b" stroke-width="0.9" />
<line x1="241.80" y1="303.13" x2="243.60" y2="303.13" stroke="#2b2b2b" stroke-width="0.9" />
<line x1="330.40" y1="303.13" x2="328.60" y2="303.13" stroke="#2b2b2b" stroke-width="0.9" />
<line x1="241.80" y1="276.97" x2="243.60" y2="276.97" stroke="#2b2b2b" stroke-width="0.9" />
<line x1="330.40" y1="276.97" x2="328.60" y2="276.97" stroke="#2b2b2b" stroke-width="0.9" />
<line x1="241.80" y1="329.30" x2="241.80" y2="327.50" stroke="#2b2b2b" stroke-width="0.9" />
<line x1="271.35" y1="329.30" x2="271.35" y2="327.50" stroke="#2b2b2b" stroke-width="0.9" />
<text x="271.35" y="341.40" font-size="9.6" text-anchor="middle" fill="#333" >1</text>
<line x1="300.90" y1="329.30" x2="300.90" y2="327.50" stroke="#2b2b2b" stroke-width="0.9" />
<text x="300.90" y="341.40" font-size="9.6" text-anchor="middle" fill="#333" >2</text>
<line x1="330.45" y1="329.30" x2="330.45" y2="327.50" stroke="#2b2b2b" stroke-width="0.9" />
<text x="330.45" y="341.40" font-size="9.6" text-anchor="middle" fill="#333" >3</text>
<text x="145.20" y="333.10" font-size="9.6" text-anchor="end" fill="#333" >0</text>
<text x="145.20" y="306.74" font-size="9.6" text-anchor="end" fill="#333" >0.5</text>
<text x="145.20" y="280.38" font-size="9.6" text-anchor="end" fill="#333" >1</text>
<text x="0.00" y="0.00" font-size="10.6" text-anchor="middle" fill="#222" transform="translate(128.6,302) rotate(-90)">Amplitude [a.u.]</text>
<text x="241.80" y="352.30" font-size="10.5" text-anchor="middle" fill="#222" >Frequency [THz]</text>
<text x="144.40" y="270.20" font-size="9.6" fill="#222" >T<tspan font-size="7.2" dy="2.4">C</tspan><tspan dy="-2.4" dx="0.8"> =</tspan><tspan dx="0.8"> 30 ps,T</tspan><tspan font-size="7.2" dy="2.4">0</tspan><tspan dy="-2.4" dx="0.8"> =</tspan><tspan dx="0.8"> 1 fs</tspan></text>
<text x="239.90" y="270.20" font-size="9.6" fill="#222" >T<tspan font-size="7.2" dy="2.4">C</tspan><tspan dy="-2.4" dx="0.8"> =</tspan><tspan dx="0.8"> 150 ps,T</tspan><tspan font-size="7.2" dy="2.4">0</tspan><tspan dy="-2.4" dx="0.8"> =</tspan><tspan dx="0.8"> 1 fs</tspan></text>
<text x="157.90" y="286.80" font-size="9.0" fill="#b94ff0" >I<tspan font-size="6.5" dy="2.4">0</tspan></text>
<text x="248.50" y="285.80" font-size="9.0" fill="#b94ff0" >I<tspan font-size="6.5" dy="2.4">0</tspan></text>
<text x="191.00" y="286.80" font-size="9.8" fill="#111" >Distortion</text>
<line x1="190.00" y1="285.00" x2="182.00" y2="279.20" stroke="#111" stroke-width="1.1" />
<path d="M182.00,279.20 L187.81,279.71 L185.32,281.61 L184.29,284.56 Z" fill="#111"/>
<text x="288.50" y="284.10" font-size="9.8" fill="#111" >No</text>
<text x="288.50" y="296.50" font-size="9.8" fill="#111" >Distortion</text>
<line x1="288.40" y1="284.40" x2="284.20" y2="289.80" stroke="#111" stroke-width="1.1" />
<path d="M284.20,289.80 L284.81,284.45 L286.52,286.82 L289.23,287.89 Z" fill="#111"/>
<text x="296.80" y="312.30" font-size="9.8" fill="#111" >Nulls</text>
<line x1="297.20" y1="314.60" x2="272.30" y2="327.20" stroke="#111" stroke-width="0.95" />
<path d="M272.30,327.20 L274.92,323.07 L275.37,325.65 L277.18,327.53 Z" fill="#111"/>
<line x1="297.20" y1="314.60" x2="294.10" y2="326.60" stroke="#111" stroke-width="0.95" />
<path d="M294.10,326.60 L292.73,321.91 L294.96,323.27 L297.57,323.16 Z" fill="#111"/>
<line x1="297.20" y1="314.60" x2="308.90" y2="327.60" stroke="#111" stroke-width="0.95" />
<path d="M308.90,327.60 L304.23,326.15 L306.60,325.04 L307.95,322.81 Z" fill="#111"/>
<text x="342.60" y="201.60" font-size="12.2" fill="#111" font-weight="bold" >E</text>
<rect x="376.00" y="196.50" width="303.40" height="75.30" fill="none" stroke="#333" stroke-width="1.5"/>
<line x1="398.00" y1="271.80" x2="398.00" y2="269.20" stroke="#333" stroke-width="1.5" />
<line x1="398.00" y1="196.50" x2="398.00" y2="199.10" stroke="#333" stroke-width="1.5" />
<line x1="441.20" y1="271.80" x2="441.20" y2="269.20" stroke="#333" stroke-width="1.5" />
<line x1="441.20" y1="196.50" x2="441.20" y2="199.10" stroke="#333" stroke-width="1.5" />
<line x1="484.40" y1="271.80" x2="484.40" y2="269.20" stroke="#333" stroke-width="1.5" />
<line x1="484.40" y1="196.50" x2="484.40" y2="199.10" stroke="#333" stroke-width="1.5" />
<line x1="527.60" y1="271.80" x2="527.60" y2="269.20" stroke="#333" stroke-width="1.5" />
<line x1="527.60" y1="196.50" x2="527.60" y2="199.10" stroke="#333" stroke-width="1.5" />
<line x1="570.80" y1="271.80" x2="570.80" y2="269.20" stroke="#333" stroke-width="1.5" />
<line x1="570.80" y1="196.50" x2="570.80" y2="199.10" stroke="#333" stroke-width="1.5" />
<line x1="614.00" y1="271.80" x2="614.00" y2="269.20" stroke="#333" stroke-width="1.5" />
<line x1="614.00" y1="196.50" x2="614.00" y2="199.10" stroke="#333" stroke-width="1.5" />
<line x1="657.20" y1="271.80" x2="657.20" y2="269.20" stroke="#333" stroke-width="1.5" />
<line x1="657.20" y1="196.50" x2="657.20" y2="199.10" stroke="#333" stroke-width="1.5" />
<line x1="376.00" y1="271.80" x2="378.60" y2="271.80" stroke="#333" stroke-width="1.5" />
<line x1="679.40" y1="271.80" x2="676.80" y2="271.80" stroke="#333" stroke-width="1.5" />
<line x1="376.00" y1="250.90" x2="378.60" y2="250.90" stroke="#333" stroke-width="1.5" />
<line x1="679.40" y1="250.90" x2="676.80" y2="250.90" stroke="#333" stroke-width="1.5" />
<line x1="376.00" y1="230.00" x2="378.60" y2="230.00" stroke="#333" stroke-width="1.5" />
<line x1="679.40" y1="230.00" x2="676.80" y2="230.00" stroke="#333" stroke-width="1.5" />
<line x1="376.00" y1="209.10" x2="378.60" y2="209.10" stroke="#333" stroke-width="1.5" />
<line x1="679.40" y1="209.10" x2="676.80" y2="209.10" stroke="#333" stroke-width="1.5" />
<clipPath id="cEt"><rect x="376.0" y="196.0" width="303.4" height="77.80000000000001"/></clipPath>
<g clip-path="url(#cEt)">
<line x1="458.80" y1="271.20" x2="458.80" y2="263.20" stroke="#ff1a1a" stroke-width="1.5" stroke-dasharray="1.1 1.1"/>
<line x1="469.10" y1="271.20" x2="469.10" y2="237.20" stroke="#ff1a1a" stroke-width="1.5" stroke-dasharray="1.1 1.1"/>
<line x1="478.80" y1="271.20" x2="478.80" y2="266.20" stroke="#ff1a1a" stroke-width="1.5" stroke-dasharray="1.1 1.1"/>
<line x1="487.80" y1="271.20" x2="487.80" y2="265.20" stroke="#ff1a1a" stroke-width="1.5" stroke-dasharray="1.1 1.1"/>
<line x1="514.60" y1="271.20" x2="514.60" y2="265.20" stroke="#ff1a1a" stroke-width="1.5" stroke-dasharray="1.1 1.1"/>
<line x1="545.20" y1="271.20" x2="545.20" y2="263.20" stroke="#ff1a1a" stroke-width="1.5" stroke-dasharray="1.1 1.1"/>
<line x1="552.70" y1="271.20" x2="552.70" y2="242.20" stroke="#ff1a1a" stroke-width="1.5" stroke-dasharray="1.1 1.1"/>
<line x1="559.60" y1="271.20" x2="559.60" y2="254.70" stroke="#ff1a1a" stroke-width="1.5" stroke-dasharray="1.1 1.1"/>
<line x1="566.60" y1="271.20" x2="566.60" y2="266.20" stroke="#ff1a1a" stroke-width="1.5" stroke-dasharray="1.1 1.1"/>
<line x1="580.50" y1="271.20" x2="580.50" y2="251.20" stroke="#ff1a1a" stroke-width="1.5" stroke-dasharray="1.1 1.1"/>
<line x1="593.70" y1="271.20" x2="593.70" y2="267.80" stroke="#ff1a1a" stroke-width="1.5" stroke-dasharray="1.1 1.1"/>
<line x1="647.50" y1="271.20" x2="647.50" y2="259.20" stroke="#ff1a1a" stroke-width="1.5" stroke-dasharray="1.1 1.1"/>
<line x1="653.40" y1="271.20" x2="653.40" y2="181.20" stroke="#ff1a1a" stroke-width="1.5" stroke-dasharray="1.1 1.1"/>
<line x1="430.00" y1="271.20" x2="430.00" y2="268.70" stroke="#ff1a1a" stroke-width="1.5" stroke-dasharray="1.1 1.1"/>
<line x1="505.00" y1="271.20" x2="505.00" y2="268.20" stroke="#ff1a1a" stroke-width="1.5" stroke-dasharray="1.1 1.1"/>
<line x1="605.00" y1="271.20" x2="605.00" y2="268.20" stroke="#ff1a1a" stroke-width="1.5" stroke-dasharray="1.1 1.1"/>
<line x1="625.00" y1="271.20" x2="625.00" y2="268.70" stroke="#ff1a1a" stroke-width="1.5" stroke-dasharray="1.1 1.1"/>
<line x1="668.00" y1="271.20" x2="668.00" y2="268.20" stroke="#ff1a1a" stroke-width="1.5" stroke-dasharray="1.1 1.1"/>
<path d="M376.4,271.8 427.2,271.7 446.1,271.5 451.3,271.2 454.8,270.8 457.3,270.1 459.1,269.1 460.6,267.5 461.8,264.9 462.6,261.5 463.3,256.5 464.2,242.9 465.4,208.8 465.6,204.1 465.9,202.9 466.2,208.5 467.5,245.0 468.1,253.9 468.7,259.3 469.6,264.1 470.8,267.1 471.5,268.1 472.4,269.0 473.4,269.7 474.8,270.3 479.0,271.1 486.2,271.5 523.1,271.6 532.4,271.5 537.9,271.2 541.4,270.7 543.7,269.8 545.1,268.6 546.2,266.9 547.0,264.4 547.7,260.7 548.5,252.4 549.6,229.4 549.9,226.2 550.1,225.4 550.5,229.2 551.6,252.1 552.7,262.1 553.5,265.6 554.4,267.8 555.8,269.4 557.7,270.4 559.7,270.9 562.4,271.2 572.1,271.6 614.6,271.6 618.5,271.4 621.3,270.4 623.4,271.2 624.9,271.4 632.1,271.5 637.5,271.3 640.5,270.7 642.1,269.8 643.8,267.7 644.2,267.4 644.7,267.5 646.0,268.4 646.9,268.5 647.9,267.8 648.7,266.4 649.2,264.6 649.8,261.7 650.6,254.0 651.7,237.7 652.0,235.7 652.4,238.3 653.3,253.2 654.0,260.6 654.9,265.5 655.5,267.1 656.3,268.6 657.3,269.5 658.3,270.2 659.8,270.7 661.7,271.1 667.5,271.5 678.8,271.7" fill="none" stroke="#000" stroke-width="1.3" stroke-linejoin="round" />
<line x1="377.50" y1="271.50" x2="679.40" y2="271.50" stroke="#ff1a1a" stroke-width="2.0" stroke-dasharray="0.01 4.2" stroke-linecap="round"/>
</g>
<text x="372.20" y="275.40" font-size="10.2" text-anchor="end" fill="#333" >0</text>
<text x="372.20" y="254.50" font-size="10.2" text-anchor="end" fill="#333" >0.5</text>
<text x="372.20" y="233.60" font-size="10.2" text-anchor="end" fill="#333" >1</text>
<text x="372.20" y="212.70" font-size="10.2" text-anchor="end" fill="#333" >1.5</text>
<text x="383.50" y="210.00" font-size="10.5" fill="#ee2a3a" >Chirped pulse</text>
<text x="383.50" y="224.00" font-size="10.5" fill="#ee2a3a" >(T<tspan font-size="8.6" dy="3.0">C</tspan><tspan dy="-3.0" dx="1.2"> =</tspan><tspan dx="1.4"> 250 ps,</tspan></text>
<text x="383.50" y="238.40" font-size="10.5" fill="#ee2a3a" >T<tspan font-size="8.6" dy="3.0">0</tspan><tspan dy="-3.0" dx="1.2"> =</tspan><tspan dx="1.4"> 50 fs)</tspan></text>
<text x="490.80" y="209.80" font-size="10.6" fill="#ee2a3a" >RH: 14.25% <tspan dx="0.8">±</tspan><tspan dx="0.8"> 0.49%</tspan></text>
<text x="490.80" y="222.60" font-size="10.6" fill="#ee2a3a" >95% CI: [13.76 - 14.75]</text>
<text x="403.65" y="261.00" font-size="9.9" fill="#1c1c1c" >J′</text>
<text x="411.31" y="261.00" font-size="9.9" fill="#1c1c1c" stroke="#1c1c1c" stroke-width="0.35">=</text>
<text x="419.55" y="261.00" font-size="9.9" fill="#1c1c1c" >1</text>
<line x1="428.40" y1="257.70" x2="433.90" y2="257.70" stroke="#1c1c1c" stroke-width="1.0" />
<path d="M435.90,257.70 L432.50,256.10 L432.50,259.30 Z" fill="#1c1c1c"/>
<text x="437.85" y="261.00" font-size="9.9" fill="#1c1c1c" >J″</text>
<text x="446.91" y="261.00" font-size="9.9" fill="#1c1c1c" stroke="#1c1c1c" stroke-width="0.35">=</text>
<text x="455.65" y="261.00" font-size="9.9" fill="#1c1c1c" >1</text>
<text x="487.65" y="250.00" font-size="9.9" fill="#1c1c1c" >J′</text>
<text x="495.31" y="250.00" font-size="9.9" fill="#1c1c1c" stroke="#1c1c1c" stroke-width="0.35">=</text>
<text x="503.81" y="250.00" font-size="9.9" fill="#1c1c1c" >2</text>
<line x1="512.40" y1="246.70" x2="517.90" y2="246.70" stroke="#1c1c1c" stroke-width="1.0" />
<path d="M519.90,246.70 L516.50,245.10 L516.50,248.30 Z" fill="#1c1c1c"/>
<text x="521.85" y="250.00" font-size="9.9" fill="#1c1c1c" >J″</text>
<text x="530.91" y="250.00" font-size="9.9" fill="#1c1c1c" stroke="#1c1c1c" stroke-width="0.35">=</text>
<text x="539.90" y="250.00" font-size="9.9" fill="#1c1c1c" >2</text>
<text x="587.85" y="240.50" font-size="9.9" fill="#1c1c1c" >J′</text>
<text x="595.51" y="240.50" font-size="9.9" fill="#1c1c1c" stroke="#1c1c1c" stroke-width="0.35">=</text>
<text x="604.00" y="240.50" font-size="9.9" fill="#1c1c1c" >2</text>
<line x1="612.60" y1="237.20" x2="618.10" y2="237.20" stroke="#1c1c1c" stroke-width="1.0" />
<path d="M620.10,237.20 L616.70,235.60 L616.70,238.80 Z" fill="#1c1c1c"/>
<text x="622.05" y="240.50" font-size="9.9" fill="#1c1c1c" >J″</text>
<text x="631.11" y="240.50" font-size="9.9" fill="#1c1c1c" stroke="#1c1c1c" stroke-width="0.35">=</text>
<text x="639.85" y="240.50" font-size="9.9" fill="#1c1c1c" >1</text>
<text x="587.85" y="251.00" font-size="9.9" fill="#1c1c1c" >J′</text>
<text x="595.51" y="251.00" font-size="9.9" fill="#1c1c1c" stroke="#1c1c1c" stroke-width="0.35">=</text>
<text x="604.10" y="251.00" font-size="9.9" fill="#1c1c1c" >5</text>
<line x1="612.60" y1="247.70" x2="618.10" y2="247.70" stroke="#1c1c1c" stroke-width="1.0" />
<path d="M620.10,247.70 L616.70,246.10 L616.70,249.30 Z" fill="#1c1c1c"/>
<text x="622.05" y="251.00" font-size="9.9" fill="#1c1c1c" >J″</text>
<text x="631.11" y="251.00" font-size="9.9" fill="#1c1c1c" stroke="#1c1c1c" stroke-width="0.35">=</text>
<text x="640.37" y="251.00" font-size="9.9" fill="#1c1c1c" >4</text>
<text x="584.15" y="264.40" font-size="9.9" fill="#1c1c1c" >J′</text>
<text x="592.01" y="264.40" font-size="9.9" fill="#1c1c1c" stroke="#1c1c1c" stroke-width="0.35">=</text>
<text x="600.77" y="264.40" font-size="9.9" fill="#1c1c1c" >4</text>
<line x1="608.10" y1="261.10" x2="613.40" y2="261.10" stroke="#1c1c1c" stroke-width="1.0" />
<path d="M615.40,261.10 L612.00,259.50 L612.00,262.70 Z" fill="#1c1c1c"/>
<text x="616.25" y="264.40" font-size="9.9" fill="#1c1c1c" >J″</text>
<text x="625.31" y="264.40" font-size="9.9" fill="#1c1c1c" stroke="#1c1c1c" stroke-width="0.35">=</text>
<text x="634.32" y="264.40" font-size="9.9" fill="#1c1c1c" >3</text>
<line x1="644.20" y1="255.80" x2="644.20" y2="262.20" stroke="#1c1c1c" stroke-width="1.0" />
<path d="M644.20,264.40 L642.60,261.00 L645.80,261.00 Z" fill="#1c1c1c"/>
<line x1="646.90" y1="239.00" x2="650.00" y2="245.40" stroke="#111" stroke-width="1.0" />
<path d="M647.25,243.62 L650.00,245.40 L650.31,242.14" fill="none" stroke="#111" stroke-width="1.0"/>
<line x1="631.10" y1="264.20" x2="625.40" y2="268.80" stroke="#111" stroke-width="1.0" />
<path d="M626.51,265.72 L625.40,268.80 L628.65,268.36" fill="none" stroke="#111" stroke-width="1.0"/>
<rect x="376.30" y="282.30" width="303.10" height="74.80" fill="none" stroke="#333" stroke-width="1.5"/>
<line x1="398.00" y1="357.10" x2="398.00" y2="354.50" stroke="#333" stroke-width="1.5" />
<line x1="398.00" y1="282.30" x2="398.00" y2="284.90" stroke="#333" stroke-width="1.5" />
<line x1="441.20" y1="357.10" x2="441.20" y2="354.50" stroke="#333" stroke-width="1.5" />
<line x1="441.20" y1="282.30" x2="441.20" y2="284.90" stroke="#333" stroke-width="1.5" />
<line x1="484.40" y1="357.10" x2="484.40" y2="354.50" stroke="#333" stroke-width="1.5" />
<line x1="484.40" y1="282.30" x2="484.40" y2="284.90" stroke="#333" stroke-width="1.5" />
<line x1="527.60" y1="357.10" x2="527.60" y2="354.50" stroke="#333" stroke-width="1.5" />
<line x1="527.60" y1="282.30" x2="527.60" y2="284.90" stroke="#333" stroke-width="1.5" />
<line x1="570.80" y1="357.10" x2="570.80" y2="354.50" stroke="#333" stroke-width="1.5" />
<line x1="570.80" y1="282.30" x2="570.80" y2="284.90" stroke="#333" stroke-width="1.5" />
<line x1="614.00" y1="357.10" x2="614.00" y2="354.50" stroke="#333" stroke-width="1.5" />
<line x1="614.00" y1="282.30" x2="614.00" y2="284.90" stroke="#333" stroke-width="1.5" />
<line x1="657.20" y1="357.10" x2="657.20" y2="354.50" stroke="#333" stroke-width="1.5" />
<line x1="657.20" y1="282.30" x2="657.20" y2="284.90" stroke="#333" stroke-width="1.5" />
<line x1="376.30" y1="357.10" x2="378.90" y2="357.10" stroke="#333" stroke-width="1.5" />
<line x1="679.40" y1="357.10" x2="676.80" y2="357.10" stroke="#333" stroke-width="1.5" />
<line x1="376.30" y1="319.80" x2="378.90" y2="319.80" stroke="#333" stroke-width="1.5" />
<line x1="679.40" y1="319.80" x2="676.80" y2="319.80" stroke="#333" stroke-width="1.5" />
<line x1="376.30" y1="282.50" x2="378.90" y2="282.50" stroke="#333" stroke-width="1.5" />
<line x1="679.40" y1="282.50" x2="676.80" y2="282.50" stroke="#333" stroke-width="1.5" />
<clipPath id="cEb"><rect x="376.3" y="282.3" width="303.09999999999997" height="76.80000000000001"/></clipPath>
<g clip-path="url(#cEb)">
<path d="M376.4,357.5 427.2,357.4 446.1,357.2 451.3,357.0 454.8,356.6 457.3,356.0 459.1,355.1 460.6,353.6 461.8,351.3 462.6,348.3 463.3,343.8 464.2,331.7 465.4,301.3 465.6,297.1 465.9,296.0 466.2,301.0 467.5,333.6 468.1,341.5 468.7,346.3 469.6,350.6 470.8,353.3 472.4,355.0 474.8,356.2 479.0,356.9 486.2,357.2 523.1,357.4 537.9,357.0 541.4,356.5 543.7,355.7 545.1,354.7 546.2,353.1 547.0,350.9 547.7,347.6 548.5,340.2 549.6,319.7 549.9,316.8 550.1,316.1 550.5,319.5 551.6,339.9 552.7,348.8 553.5,352.0 554.4,353.9 555.8,355.3 557.7,356.2 559.7,356.7 562.4,357.0 572.1,357.3 614.6,357.4 618.5,357.1 621.3,356.3 623.4,356.9 624.9,357.2 632.1,357.3 637.5,357.0 640.5,356.5 642.1,355.7 643.8,353.9 644.2,353.6 644.7,353.7 646.0,354.5 646.9,354.5 647.9,353.9 648.7,352.7 649.2,351.1 649.8,348.5 650.6,341.6 651.7,327.1 652.0,325.3 652.4,327.6 653.3,340.9 654.0,347.5 654.9,351.9 655.5,353.3 656.3,354.6 657.3,355.5 658.3,356.1 661.7,356.9 667.5,357.2 678.8,357.4" fill="none" stroke="#000" stroke-width="1.2" stroke-linejoin="round" />
<path d="M376.4,357.5 427.2,357.4 438.8,357.3 446.1,357.2 451.3,357.0 454.8,356.6 456.1,356.3 457.3,356.0 458.3,355.6 459.1,355.1 459.9,354.5 460.6,353.6 461.2,352.7 461.8,351.3 462.3,349.8 462.6,348.3 463.3,343.8 463.8,339.0 464.2,331.7 464.7,321.1 465.4,301.3 465.6,297.1 465.8,296.1 465.9,296.0 466.0,296.9 466.2,301.0 467.0,323.7 467.5,333.6 468.1,341.5 468.7,346.3 469.1,348.8 469.6,350.6 470.2,352.2 470.8,353.3 471.5,354.2 472.4,355.0 473.4,355.6 474.8,356.2 476.7,356.6 479.0,356.9 482.2,357.1 486.2,357.2 500.7,357.4 523.1,357.4 532.4,357.2 537.9,357.0 539.9,356.8 541.4,356.5 542.7,356.2 543.7,355.7 544.4,355.3 545.1,354.7 545.7,353.9 546.2,353.1 546.6,352.0 547.0,350.9 547.7,347.6 548.1,344.0 548.5,340.2 549.0,333.0 549.6,319.7 549.9,316.8 550.0,316.2 550.1,316.1 550.2,316.7 550.5,319.5 551.2,332.7 551.6,339.9 552.1,344.9 552.7,348.8 553.0,350.4 553.5,352.0 554.0,353.1 554.4,353.9 555.1,354.8 555.8,355.3 556.6,355.8 557.7,356.2 559.7,356.7 562.4,357.0 566.4,357.2 572.1,357.3 594.2,357.4 614.6,357.4 617.0,357.3 618.5,357.1 619.5,356.9 620.9,356.4 621.3,356.3 621.8,356.4 623.4,356.9 624.9,357.2 627.7,357.3 632.1,357.3 637.5,357.0 639.2,356.8 640.5,356.5 641.5,356.1 642.1,355.7 642.7,355.1 643.8,353.9 644.2,353.6 644.7,353.7 646.0,354.5 646.5,354.6 646.9,354.5 647.4,354.3 647.9,353.9 648.3,353.3 648.7,352.7 649.2,351.1 649.8,348.5 650.3,345.2 650.6,341.6 651.7,327.1 651.9,325.4 652.0,325.3 652.2,325.6 652.4,327.6 653.3,340.9 653.7,344.7 654.0,347.5 654.5,350.1 654.9,351.9 655.5,353.3 656.3,354.6 657.3,355.5 658.3,356.1 659.8,356.5 661.7,356.9 664.1,357.1 667.5,357.2 678.8,357.4" fill="none" stroke="#1a1aff" stroke-width="2.4" stroke-linejoin="round" stroke-dasharray="0.01 4.1" stroke-linecap="round"/>
</g>
<text x="372.20" y="360.70" font-size="10.2" text-anchor="end" fill="#333" >0</text>
<text x="372.20" y="323.40" font-size="10.2" text-anchor="end" fill="#333" >1</text>
<text x="372.20" y="286.10" font-size="10.2" text-anchor="end" fill="#333" >2</text>
<text x="398.00" y="370.60" font-size="10.2" text-anchor="middle" fill="#333" >0.4</text>
<text x="441.20" y="370.60" font-size="10.2" text-anchor="middle" fill="#333" >0.5</text>
<text x="484.40" y="370.60" font-size="10.2" text-anchor="middle" fill="#333" >0.6</text>
<text x="527.60" y="370.60" font-size="10.2" text-anchor="middle" fill="#333" >0.7</text>
<text x="570.80" y="370.60" font-size="10.2" text-anchor="middle" fill="#333" >0.8</text>
<text x="614.00" y="370.60" font-size="10.2" text-anchor="middle" fill="#333" >0.9</text>
<text x="657.20" y="370.60" font-size="10.2" text-anchor="middle" fill="#333" >1</text>
<text x="383.50" y="296.60" font-size="10.4" fill="#2020ff" >Supercontinuum</text>
<text x="383.50" y="311.10" font-size="10.5" fill="#2020ff" >(T<tspan font-size="8.6" dy="3.0">C</tspan><tspan dy="-3.0" dx="1.2"> =</tspan><tspan dx="1.4"> 250 ps,</tspan></text>
<text x="383.50" y="327.30" font-size="10.5" fill="#2020ff" >T<tspan font-size="8.6" dy="3.0">0</tspan><tspan dy="-3.0" dx="1.2"> =</tspan><tspan dx="1.4"> 0.5 fs)</tspan></text>
<text x="490.70" y="295.50" font-size="10.6" fill="#2020ff" >RH: 13.98% <tspan dx="0.8">±</tspan><tspan dx="0.8"> 0.06%</tspan></text>
<text x="490.70" y="308.60" font-size="10.6" fill="#2020ff" >95% CI: [13.92 - 14.04]</text>
<text x="400.95" y="346.00" font-size="9.9" fill="#1c1c1c" >J′</text>
<text x="408.61" y="346.00" font-size="9.9" fill="#1c1c1c" stroke="#1c1c1c" stroke-width="0.35">=</text>
<text x="416.85" y="346.00" font-size="9.9" fill="#1c1c1c" >1</text>
<line x1="425.70" y1="342.70" x2="431.20" y2="342.70" stroke="#1c1c1c" stroke-width="1.0" />
<path d="M433.20,342.70 L429.80,341.10 L429.80,344.30 Z" fill="#1c1c1c"/>
<text x="435.15" y="346.00" font-size="9.9" fill="#1c1c1c" >J″</text>
<text x="444.21" y="346.00" font-size="9.9" fill="#1c1c1c" stroke="#1c1c1c" stroke-width="0.35">=</text>
<text x="452.95" y="346.00" font-size="9.9" fill="#1c1c1c" >1</text>
<text x="487.45" y="339.70" font-size="9.9" fill="#1c1c1c" >J′</text>
<text x="495.11" y="339.70" font-size="9.9" fill="#1c1c1c" stroke="#1c1c1c" stroke-width="0.35">=</text>
<text x="503.61" y="339.70" font-size="9.9" fill="#1c1c1c" >2</text>
<line x1="512.20" y1="336.40" x2="517.70" y2="336.40" stroke="#1c1c1c" stroke-width="1.0" />
<path d="M519.70,336.40 L516.30,334.80 L516.30,338.00 Z" fill="#1c1c1c"/>
<text x="521.65" y="339.70" font-size="9.9" fill="#1c1c1c" >J″</text>
<text x="530.71" y="339.70" font-size="9.9" fill="#1c1c1c" stroke="#1c1c1c" stroke-width="0.35">=</text>
<text x="539.71" y="339.70" font-size="9.9" fill="#1c1c1c" >2</text>
<text x="586.65" y="327.60" font-size="9.9" fill="#1c1c1c" >J′</text>
<text x="594.31" y="327.60" font-size="9.9" fill="#1c1c1c" stroke="#1c1c1c" stroke-width="0.35">=</text>
<text x="602.80" y="327.60" font-size="9.9" fill="#1c1c1c" >2</text>
<line x1="611.40" y1="324.30" x2="616.90" y2="324.30" stroke="#1c1c1c" stroke-width="1.0" />
<path d="M618.90,324.30 L615.50,322.70 L615.50,325.90 Z" fill="#1c1c1c"/>
<text x="620.85" y="327.60" font-size="9.9" fill="#1c1c1c" >J″</text>
<text x="629.91" y="327.60" font-size="9.9" fill="#1c1c1c" stroke="#1c1c1c" stroke-width="0.35">=</text>
<text x="638.65" y="327.60" font-size="9.9" fill="#1c1c1c" >1</text>
<text x="586.65" y="337.70" font-size="9.9" fill="#1c1c1c" >J′</text>
<text x="594.31" y="337.70" font-size="9.9" fill="#1c1c1c" stroke="#1c1c1c" stroke-width="0.35">=</text>
<text x="602.90" y="337.70" font-size="9.9" fill="#1c1c1c" >5</text>
<line x1="611.40" y1="334.40" x2="616.90" y2="334.40" stroke="#1c1c1c" stroke-width="1.0" />
<path d="M618.90,334.40 L615.50,332.80 L615.50,336.00 Z" fill="#1c1c1c"/>
<text x="620.85" y="337.70" font-size="9.9" fill="#1c1c1c" >J″</text>
<text x="629.91" y="337.70" font-size="9.9" fill="#1c1c1c" stroke="#1c1c1c" stroke-width="0.35">=</text>
<text x="639.17" y="337.70" font-size="9.9" fill="#1c1c1c" >4</text>
<text x="583.15" y="351.10" font-size="9.9" fill="#1c1c1c" >J′</text>
<text x="591.01" y="351.10" font-size="9.9" fill="#1c1c1c" stroke="#1c1c1c" stroke-width="0.35">=</text>
<text x="599.77" y="351.10" font-size="9.9" fill="#1c1c1c" >4</text>
<line x1="607.10" y1="347.80" x2="612.40" y2="347.80" stroke="#1c1c1c" stroke-width="1.0" />
<path d="M614.40,347.80 L611.00,346.20 L611.00,349.40 Z" fill="#1c1c1c"/>
<text x="615.25" y="351.10" font-size="9.9" fill="#1c1c1c" >J″</text>
<text x="624.31" y="351.10" font-size="9.9" fill="#1c1c1c" stroke="#1c1c1c" stroke-width="0.35">=</text>
<text x="633.32" y="351.10" font-size="9.9" fill="#1c1c1c" >3</text>
<line x1="643.20" y1="342.50" x2="643.20" y2="348.90" stroke="#1c1c1c" stroke-width="1.0" />
<path d="M643.20,351.10 L641.60,347.70 L644.80,347.70 Z" fill="#1c1c1c"/>
<line x1="645.50" y1="325.50" x2="649.50" y2="331.50" stroke="#111" stroke-width="1.0" />
<path d="M646.53,330.11 L649.50,331.50 L649.36,328.23" fill="none" stroke="#111" stroke-width="1.0"/>
<line x1="630.50" y1="351.50" x2="624.80" y2="355.50" stroke="#111" stroke-width="1.0" />
<path d="M626.12,352.50 L624.80,355.50 L628.07,355.28" fill="none" stroke="#111" stroke-width="1.0"/>
<text x="486.00" y="383.60" font-size="11.3" fill="#222" >Frequency [THz]</text>
<text x="0.00" y="0.00" font-size="10.6" text-anchor="middle" fill="#222" transform="translate(355.6,279.7) rotate(-90)">Absorbance</text>
</svg>
</body></html>
